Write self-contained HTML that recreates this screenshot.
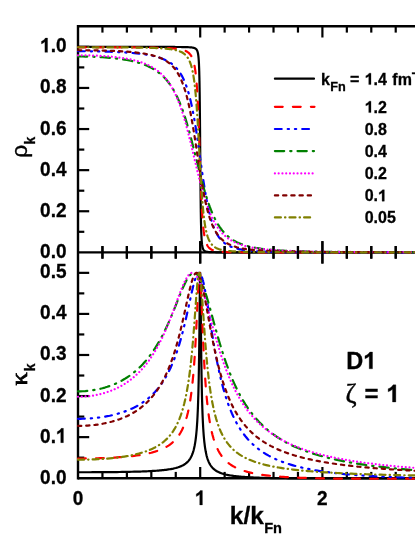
<!DOCTYPE html>
<html><head><meta charset="utf-8"><title>chart</title>
<style>html,body{margin:0;padding:0;background:#fff;}body{width:415px;height:537px;overflow:hidden;position:relative;font-family:"Liberation Sans",sans-serif;}</style>
</head><body>
<svg width="415" height="537" viewBox="0 0 415 537" style="position:absolute;left:0;top:0">
<rect x="0" y="0" width="415" height="537" fill="#fff"/>
<g stroke="#000" stroke-width="2.4" fill="none">
<line x1="78.0" y1="25.1" x2="78.0" y2="479.4"/>
<line x1="78.0" y1="26.3" x2="415" y2="26.3"/>
<line x1="78.0" y1="252.35" x2="415" y2="252.35"/>
<line x1="78.0" y1="478.2" x2="415" y2="478.2"/>
</g>
<g stroke="#000" stroke-width="2.2" fill="none">
<line x1="102.44" y1="26.3" x2="102.44" y2="32.6"/>
<line x1="102.44" y1="246.04999999999998" x2="102.44" y2="258.65"/>
<line x1="102.44" y1="471.9" x2="102.44" y2="478.2"/>
<line x1="126.88" y1="26.3" x2="126.88" y2="32.6"/>
<line x1="126.88" y1="246.04999999999998" x2="126.88" y2="258.65"/>
<line x1="126.88" y1="471.9" x2="126.88" y2="478.2"/>
<line x1="151.32" y1="26.3" x2="151.32" y2="32.6"/>
<line x1="151.32" y1="246.04999999999998" x2="151.32" y2="258.65"/>
<line x1="151.32" y1="471.9" x2="151.32" y2="478.2"/>
<line x1="175.76" y1="26.3" x2="175.76" y2="32.6"/>
<line x1="175.76" y1="246.04999999999998" x2="175.76" y2="258.65"/>
<line x1="175.76" y1="471.9" x2="175.76" y2="478.2"/>
<line x1="200.20" y1="26.3" x2="200.20" y2="37.5"/>
<line x1="200.20" y1="241.15" x2="200.20" y2="263.55"/>
<line x1="200.20" y1="467.0" x2="200.20" y2="478.2"/>
<line x1="224.64" y1="26.3" x2="224.64" y2="32.6"/>
<line x1="224.64" y1="246.04999999999998" x2="224.64" y2="258.65"/>
<line x1="224.64" y1="471.9" x2="224.64" y2="478.2"/>
<line x1="249.08" y1="26.3" x2="249.08" y2="32.6"/>
<line x1="249.08" y1="246.04999999999998" x2="249.08" y2="258.65"/>
<line x1="249.08" y1="471.9" x2="249.08" y2="478.2"/>
<line x1="273.52" y1="26.3" x2="273.52" y2="32.6"/>
<line x1="273.52" y1="246.04999999999998" x2="273.52" y2="258.65"/>
<line x1="273.52" y1="471.9" x2="273.52" y2="478.2"/>
<line x1="297.96" y1="26.3" x2="297.96" y2="32.6"/>
<line x1="297.96" y1="246.04999999999998" x2="297.96" y2="258.65"/>
<line x1="297.96" y1="471.9" x2="297.96" y2="478.2"/>
<line x1="322.40" y1="26.3" x2="322.40" y2="37.5"/>
<line x1="322.40" y1="241.15" x2="322.40" y2="263.55"/>
<line x1="322.40" y1="467.0" x2="322.40" y2="478.2"/>
<line x1="346.84" y1="26.3" x2="346.84" y2="32.6"/>
<line x1="346.84" y1="246.04999999999998" x2="346.84" y2="258.65"/>
<line x1="346.84" y1="471.9" x2="346.84" y2="478.2"/>
<line x1="371.28" y1="26.3" x2="371.28" y2="32.6"/>
<line x1="371.28" y1="246.04999999999998" x2="371.28" y2="258.65"/>
<line x1="371.28" y1="471.9" x2="371.28" y2="478.2"/>
<line x1="395.72" y1="26.3" x2="395.72" y2="32.6"/>
<line x1="395.72" y1="246.04999999999998" x2="395.72" y2="258.65"/>
<line x1="395.72" y1="471.9" x2="395.72" y2="478.2"/>
<line x1="78.0" y1="231.80" x2="84.3" y2="231.80"/>
<line x1="78.0" y1="211.25" x2="89.2" y2="211.25"/>
<line x1="78.0" y1="190.70" x2="84.3" y2="190.70"/>
<line x1="78.0" y1="170.15" x2="89.2" y2="170.15"/>
<line x1="78.0" y1="149.60" x2="84.3" y2="149.60"/>
<line x1="78.0" y1="129.05" x2="89.2" y2="129.05"/>
<line x1="78.0" y1="108.50" x2="84.3" y2="108.50"/>
<line x1="78.0" y1="87.95" x2="89.2" y2="87.95"/>
<line x1="78.0" y1="67.40" x2="84.3" y2="67.40"/>
<line x1="78.0" y1="46.85" x2="89.2" y2="46.85"/>
<line x1="78.0" y1="457.66" x2="84.3" y2="457.66"/>
<line x1="78.0" y1="437.13" x2="89.2" y2="437.13"/>
<line x1="78.0" y1="416.59" x2="84.3" y2="416.59"/>
<line x1="78.0" y1="396.06" x2="89.2" y2="396.06"/>
<line x1="78.0" y1="375.52" x2="84.3" y2="375.52"/>
<line x1="78.0" y1="354.99" x2="89.2" y2="354.99"/>
<line x1="78.0" y1="334.45" x2="84.3" y2="334.45"/>
<line x1="78.0" y1="313.92" x2="89.2" y2="313.92"/>
<line x1="78.0" y1="293.38" x2="84.3" y2="293.38"/>
<line x1="78.0" y1="272.85" x2="89.2" y2="272.85"/>
</g>
<g fill="none" stroke-linejoin="round" stroke-linecap="round">
<path d="M78.00,46.89 L80.44,46.89 L82.89,46.89 L85.33,46.89 L87.78,46.89 L90.22,46.89 L92.66,46.89 L95.11,46.89 L97.55,46.89 L100.00,46.89 L102.44,46.89 L104.88,46.89 L107.33,46.89 L109.77,46.90 L112.22,46.90 L114.66,46.90 L117.10,46.90 L119.55,46.90 L121.99,46.90 L124.44,46.90 L126.88,46.90 L129.32,46.90 L131.77,46.90 L134.21,46.90 L136.66,46.90 L139.10,46.90 L140.32,46.90 L141.54,46.90 L142.77,46.91 L143.99,46.91 L145.21,46.91 L146.43,46.91 L147.65,46.91 L148.88,46.91 L150.10,46.91 L151.32,46.91 L152.54,46.91 L153.76,46.92 L154.99,46.92 L156.21,46.92 L157.43,46.92 L158.65,46.92 L159.87,46.92 L161.10,46.93 L162.32,46.93 L163.54,46.93 L164.76,46.93 L165.98,46.94 L167.21,46.94 L168.43,46.94 L169.65,46.95 L170.87,46.95 L172.09,46.96 L173.32,46.96 L174.54,46.97 L175.76,46.98 L176.98,46.99 L178.20,47.00 L179.43,47.01 L180.65,47.02 L181.87,47.04 L183.09,47.06 L184.31,47.08 L185.54,47.11 L186.76,47.15 L187.98,47.19 L188.22,47.20 L188.47,47.22 L188.71,47.23 L188.96,47.24 L189.20,47.26 L189.45,47.27 L189.69,47.29 L189.94,47.30 L190.18,47.32 L190.42,47.34 L190.67,47.36 L190.91,47.39 L191.16,47.41 L191.40,47.44 L191.65,47.46 L191.89,47.50 L192.13,47.53 L192.38,47.57 L192.62,47.60 L192.87,47.65 L193.11,47.70 L193.36,47.75 L193.60,47.81 L193.85,47.87 L194.09,47.95 L194.33,48.03 L194.58,48.12 L194.82,48.22 L195.07,48.34 L195.31,48.48 L195.56,48.63 L195.80,48.81 L196.05,49.02 L196.29,49.27 L196.53,49.57 L196.60,49.65 L196.66,49.74 L196.72,49.83 L196.78,49.93 L196.84,50.03 L196.90,50.14 L196.96,50.25 L197.02,50.37 L197.08,50.49 L197.14,50.62 L197.21,50.76 L197.27,50.91 L197.33,51.06 L197.39,51.22 L197.45,51.40 L197.51,51.58 L197.57,51.78 L197.63,51.99 L197.69,52.21 L197.76,52.45 L197.82,52.70 L197.88,52.98 L197.94,53.27 L198.00,53.58 L198.06,53.92 L198.12,54.28 L198.18,54.67 L198.24,55.09 L198.31,55.55 L198.37,56.04 L198.43,56.58 L198.49,57.16 L198.55,57.80 L198.61,58.49 L198.67,59.26 L198.73,60.09 L198.79,61.01 L198.86,62.02 L198.92,63.13 L198.98,64.37 L199.04,65.74 L199.10,67.26 L199.16,68.95 L199.22,70.84 L199.28,72.95 L199.34,75.30 L199.41,77.94 L199.47,80.89 L199.53,84.20 L199.59,87.89 L199.65,92.01 L199.71,96.58 L199.77,101.65 L199.83,107.22 L199.89,113.29 L199.96,119.84 L200.02,126.84 L200.08,134.20 L200.14,141.82 L200.20,149.60 L200.26,157.39 L200.32,165.07 L200.38,172.51 L200.44,179.61 L200.51,186.28 L200.57,192.47 L200.63,198.16 L200.69,203.34 L200.75,208.02 L200.81,212.23 L200.87,215.99 L200.93,219.36 L200.99,222.36 L201.06,225.04 L201.12,227.42 L201.18,229.55 L201.24,231.45 L201.30,233.15 L201.36,234.67 L201.42,236.03 L201.48,237.26 L201.54,238.37 L201.61,239.37 L201.67,240.27 L201.73,241.09 L201.79,241.83 L201.85,242.51 L201.91,243.13 L201.97,243.70 L202.03,244.22 L202.09,244.69 L202.16,245.13 L202.22,245.53 L202.28,245.91 L202.34,246.25 L202.40,246.57 L202.46,246.86 L202.52,247.14 L202.58,247.40 L202.64,247.63 L202.71,247.86 L202.77,248.06 L202.83,248.26 L202.89,248.44 L202.95,248.61 L203.01,248.77 L203.07,248.92 L203.13,249.07 L203.19,249.20 L203.25,249.33 L203.32,249.45 L203.38,249.56 L203.44,249.66 L203.50,249.77 L203.56,249.86 L203.62,249.95 L203.68,250.04 L203.74,250.12 L203.80,250.20 L203.87,250.27 L204.11,250.53 L204.35,250.75 L204.60,250.93 L204.84,251.09 L205.09,251.22 L205.33,251.33 L205.58,251.43 L205.82,251.52 L206.07,251.59 L206.31,251.66 L206.55,251.72 L206.80,251.77 L207.04,251.81 L207.29,251.85 L207.53,251.89 L207.78,251.92 L208.02,251.95 L208.27,251.98 L208.51,252.01 L208.75,252.03 L209.00,252.05 L209.24,252.07 L209.49,252.09 L209.73,252.10 L209.98,252.12 L210.22,252.13 L210.46,252.14 L210.71,252.15 L210.95,252.16 L211.20,252.17 L211.44,252.18 L211.69,252.19 L211.93,252.20 L212.18,252.21 L212.42,252.21 L213.64,252.24 L214.86,252.27 L216.09,252.28 L217.31,252.29 L218.53,252.30 L219.75,252.31 L220.97,252.32 L222.20,252.32 L223.42,252.33 L224.64,252.33 L225.86,252.33 L227.08,252.34 L228.31,252.34 L229.53,252.34 L230.75,252.34 L231.97,252.34 L233.19,252.34 L234.42,252.34 L235.64,252.35 L236.86,252.35 L238.08,252.35 L239.30,252.35 L240.53,252.35 L241.75,252.35 L242.97,252.35 L244.19,252.35 L245.41,252.35 L246.64,252.35 L247.86,252.35 L249.08,252.35 L250.30,252.35 L251.52,252.35 L252.75,252.35 L253.97,252.35 L255.19,252.35 L256.41,252.35 L257.63,252.35 L258.86,252.35 L260.08,252.35 L261.30,252.35 L263.74,252.35 L266.19,252.35 L268.63,252.35 L271.08,252.35 L273.52,252.35 L275.96,252.35 L278.41,252.35 L280.85,252.35 L283.30,252.35 L285.74,252.35 L288.18,252.35 L290.63,252.35 L293.07,252.35 L295.52,252.35 L297.96,252.35 L300.40,252.35 L302.85,252.35 L305.29,252.35 L307.74,252.35 L310.18,252.35 L312.62,252.35 L315.07,252.35 L317.51,252.35 L319.96,252.35 L322.40,252.35 L324.84,252.35 L327.29,252.35 L329.73,252.35 L332.18,252.35 L334.62,252.35 L337.06,252.35 L339.51,252.35 L341.95,252.35 L344.40,252.35 L346.84,252.35 L349.28,252.35 L351.73,252.35 L354.17,252.35 L356.62,252.35 L359.06,252.35 L361.50,252.35 L363.95,252.35 L366.39,252.35 L368.84,252.35 L371.28,252.35 L373.72,252.35 L376.17,252.35 L378.61,252.35 L381.06,252.35 L383.50,252.35 L385.94,252.35 L388.39,252.35 L390.83,252.35 L393.28,252.35 L395.72,252.35 L398.16,252.35 L400.61,252.35 L403.05,252.35 L405.50,252.35 L407.94,252.35 L410.38,252.35 L412.83,252.35 L415.27,252.35 L417.72,252.35 L420.16,252.35" stroke="#000000" stroke-width="2.2"/>
<path d="M78.00,47.32 L80.44,47.32 L82.89,47.32 L85.33,47.33 L87.78,47.33 L90.22,47.33 L92.66,47.33 L95.11,47.33 L97.55,47.34 L100.00,47.34 L102.44,47.34 L104.88,47.35 L107.33,47.35 L109.77,47.36 L112.22,47.36 L114.66,47.37 L117.10,47.38 L119.55,47.39 L121.99,47.40 L124.44,47.41 L126.88,47.42 L129.32,47.43 L131.77,47.45 L134.21,47.46 L136.66,47.48 L139.10,47.50 L140.32,47.51 L141.54,47.52 L142.77,47.54 L143.99,47.55 L145.21,47.56 L146.43,47.58 L147.65,47.59 L148.88,47.61 L150.10,47.63 L151.32,47.65 L152.54,47.67 L153.76,47.69 L154.99,47.71 L156.21,47.74 L157.43,47.76 L158.65,47.79 L159.87,47.83 L161.10,47.86 L162.32,47.90 L163.54,47.94 L164.76,47.99 L165.98,48.04 L167.21,48.09 L168.43,48.15 L169.65,48.22 L170.87,48.29 L172.09,48.38 L173.32,48.48 L174.54,48.58 L175.76,48.71 L176.98,48.85 L178.20,49.01 L179.43,49.21 L180.65,49.43 L181.87,49.70 L183.09,50.02 L184.31,50.42 L185.54,50.90 L186.76,51.52 L187.98,52.31 L188.22,52.49 L188.47,52.69 L188.71,52.90 L188.96,53.12 L189.20,53.35 L189.45,53.59 L189.69,53.86 L189.94,54.14 L190.18,54.44 L190.42,54.75 L190.67,55.09 L190.91,55.46 L191.16,55.85 L191.40,56.27 L191.65,56.72 L191.89,57.20 L192.13,57.73 L192.38,58.29 L192.62,58.90 L192.87,59.57 L193.11,60.29 L193.36,61.08 L193.60,61.93 L193.85,62.87 L194.09,63.89 L194.33,65.02 L194.58,66.25 L194.82,67.62 L195.07,69.12 L195.31,70.78 L195.56,72.62 L195.80,74.66 L196.05,76.92 L196.29,79.43 L196.53,82.23 L196.60,82.97 L196.66,83.74 L196.72,84.53 L196.78,85.33 L196.84,86.16 L196.90,87.01 L196.96,87.89 L197.02,88.78 L197.08,89.70 L197.14,90.65 L197.21,91.61 L197.27,92.61 L197.33,93.62 L197.39,94.67 L197.45,95.74 L197.51,96.84 L197.57,97.96 L197.63,99.11 L197.69,100.29 L197.76,101.50 L197.82,102.73 L197.88,104.00 L197.94,105.29 L198.00,106.61 L198.06,107.96 L198.12,109.34 L198.18,110.74 L198.24,112.18 L198.31,113.64 L198.37,115.13 L198.43,116.65 L198.49,118.20 L198.55,119.77 L198.61,121.37 L198.67,123.00 L198.73,124.64 L198.79,126.32 L198.86,128.01 L198.92,129.73 L198.98,131.46 L199.04,133.22 L199.10,134.99 L199.16,136.78 L199.22,138.59 L199.28,140.41 L199.34,142.24 L199.41,144.08 L199.47,145.93 L199.53,147.79 L199.59,149.65 L199.65,151.51 L199.71,153.38 L199.77,155.24 L199.83,157.11 L199.89,158.96 L199.96,160.82 L200.02,162.66 L200.08,164.50 L200.14,166.32 L200.20,168.13 L200.26,169.93 L200.32,171.71 L200.38,173.47 L200.44,175.21 L200.51,176.94 L200.57,178.64 L200.63,180.32 L200.69,181.97 L200.75,183.60 L200.81,185.21 L200.87,186.79 L200.93,188.34 L200.99,189.86 L201.06,191.36 L201.12,192.82 L201.18,194.26 L201.24,195.67 L201.30,197.05 L201.36,198.40 L201.42,199.72 L201.48,201.01 L201.54,202.27 L201.61,203.50 L201.67,204.71 L201.73,205.88 L201.79,207.02 L201.85,208.14 L201.91,209.23 L201.97,210.29 L202.03,211.32 L202.09,212.33 L202.16,213.31 L202.22,214.27 L202.28,215.20 L202.34,216.10 L202.40,216.98 L202.46,217.84 L202.52,218.67 L202.58,219.48 L202.64,220.27 L202.71,221.03 L202.77,221.78 L202.83,222.50 L202.89,223.21 L202.95,223.89 L203.01,224.56 L203.07,225.21 L203.13,225.84 L203.19,226.45 L203.25,227.04 L203.32,227.62 L203.38,228.19 L203.44,228.73 L203.50,229.26 L203.56,229.78 L203.62,230.28 L203.68,230.77 L203.74,231.25 L203.80,231.71 L203.87,232.16 L204.11,233.84 L204.35,235.35 L204.60,236.70 L204.84,237.92 L205.09,239.02 L205.33,240.01 L205.58,240.90 L205.82,241.72 L206.07,242.46 L206.31,243.13 L206.55,243.74 L206.80,244.30 L207.04,244.81 L207.29,245.28 L207.53,245.71 L207.78,246.11 L208.02,246.47 L208.27,246.81 L208.51,247.12 L208.75,247.41 L209.00,247.68 L209.24,247.93 L209.49,248.16 L209.73,248.38 L209.98,248.58 L210.22,248.77 L210.46,248.94 L210.71,249.11 L210.95,249.26 L211.20,249.41 L211.44,249.54 L211.69,249.67 L211.93,249.79 L212.18,249.90 L212.42,250.01 L213.64,250.46 L214.86,250.80 L216.09,251.07 L217.31,251.28 L218.53,251.45 L219.75,251.58 L220.97,251.69 L222.20,251.78 L223.42,251.86 L224.64,251.93 L225.86,251.98 L227.08,252.03 L228.31,252.06 L229.53,252.10 L230.75,252.13 L231.97,252.15 L233.19,252.18 L234.42,252.19 L235.64,252.21 L236.86,252.23 L238.08,252.24 L239.30,252.25 L240.53,252.26 L241.75,252.27 L242.97,252.28 L244.19,252.29 L245.41,252.29 L246.64,252.30 L247.86,252.30 L249.08,252.31 L250.30,252.31 L251.52,252.32 L252.75,252.32 L253.97,252.32 L255.19,252.32 L256.41,252.33 L257.63,252.33 L258.86,252.33 L260.08,252.33 L261.30,252.33 L263.74,252.34 L266.19,252.34 L268.63,252.34 L271.08,252.34 L273.52,252.34 L275.96,252.35 L278.41,252.35 L280.85,252.35 L283.30,252.35 L285.74,252.35 L288.18,252.35 L290.63,252.35 L293.07,252.35 L295.52,252.35 L297.96,252.35 L300.40,252.35 L302.85,252.35 L305.29,252.35 L307.74,252.35 L310.18,252.35 L312.62,252.35 L315.07,252.35 L317.51,252.35 L319.96,252.35 L322.40,252.35 L324.84,252.35 L327.29,252.35 L329.73,252.35 L332.18,252.35 L334.62,252.35 L337.06,252.35 L339.51,252.35 L341.95,252.35 L344.40,252.35 L346.84,252.35 L349.28,252.35 L351.73,252.35 L354.17,252.35 L356.62,252.35 L359.06,252.35 L361.50,252.35 L363.95,252.35 L366.39,252.35 L368.84,252.35 L371.28,252.35 L373.72,252.35 L376.17,252.35 L378.61,252.35 L381.06,252.35 L383.50,252.35 L385.94,252.35 L388.39,252.35 L390.83,252.35 L393.28,252.35 L395.72,252.35 L398.16,252.35 L400.61,252.35 L403.05,252.35 L405.50,252.35 L407.94,252.35 L410.38,252.35 L412.83,252.35 L415.27,252.35 L417.72,252.35 L420.16,252.35" stroke="#ff0000" stroke-width="2.2" stroke-dasharray="7.8 10.2"/>
<path d="M78.00,51.24 L80.44,51.24 L82.89,51.25 L85.33,51.26 L87.78,51.28 L90.22,51.30 L92.66,51.33 L95.11,51.37 L97.55,51.41 L100.00,51.46 L102.44,51.51 L104.88,51.58 L107.33,51.64 L109.77,51.72 L112.22,51.81 L114.66,51.90 L117.10,52.01 L119.55,52.13 L121.99,52.26 L124.44,52.40 L126.88,52.56 L129.32,52.73 L131.77,52.92 L134.21,53.14 L136.66,53.37 L139.10,53.64 L140.32,53.78 L141.54,53.93 L142.77,54.09 L143.99,54.26 L145.21,54.44 L146.43,54.63 L147.65,54.84 L148.88,55.05 L150.10,55.28 L151.32,55.52 L152.54,55.78 L153.76,56.06 L154.99,56.36 L156.21,56.68 L157.43,57.02 L158.65,57.38 L159.87,57.78 L161.10,58.20 L162.32,58.66 L163.54,59.15 L164.76,59.69 L165.98,60.27 L167.21,60.90 L168.43,61.59 L169.65,62.34 L170.87,63.17 L172.09,64.07 L173.32,65.07 L174.54,66.17 L175.76,67.38 L176.98,68.73 L178.20,70.23 L179.43,71.90 L180.65,73.77 L181.87,75.86 L183.09,78.21 L184.31,80.85 L185.54,83.83 L186.76,87.19 L187.98,90.97 L188.22,91.78 L188.47,92.61 L188.71,93.47 L188.96,94.34 L189.20,95.23 L189.45,96.15 L189.69,97.08 L189.94,98.04 L190.18,99.02 L190.42,100.02 L190.67,101.05 L190.91,102.09 L191.16,103.17 L191.40,104.26 L191.65,105.38 L191.89,106.53 L192.13,107.70 L192.38,108.89 L192.62,110.11 L192.87,111.35 L193.11,112.62 L193.36,113.91 L193.60,115.23 L193.85,116.57 L194.09,117.93 L194.33,119.32 L194.58,120.74 L194.82,122.18 L195.07,123.64 L195.31,125.13 L195.56,126.63 L195.80,128.16 L196.05,129.71 L196.29,131.28 L196.53,132.87 L196.60,133.28 L196.66,133.68 L196.72,134.08 L196.78,134.48 L196.84,134.89 L196.90,135.30 L196.96,135.70 L197.02,136.11 L197.08,136.52 L197.14,136.93 L197.21,137.34 L197.27,137.76 L197.33,138.17 L197.39,138.58 L197.45,139.00 L197.51,139.42 L197.57,139.83 L197.63,140.25 L197.69,140.67 L197.76,141.09 L197.82,141.51 L197.88,141.93 L197.94,142.36 L198.00,142.78 L198.06,143.20 L198.12,143.63 L198.18,144.05 L198.24,144.48 L198.31,144.91 L198.37,145.34 L198.43,145.76 L198.49,146.19 L198.55,146.62 L198.61,147.05 L198.67,147.48 L198.73,147.91 L198.79,148.35 L198.86,148.78 L198.92,149.21 L198.98,149.64 L199.04,150.08 L199.10,150.51 L199.16,150.95 L199.22,151.38 L199.28,151.82 L199.34,152.25 L199.41,152.69 L199.47,153.12 L199.53,153.56 L199.59,153.99 L199.65,154.43 L199.71,154.87 L199.77,155.30 L199.83,155.74 L199.89,156.18 L199.96,156.62 L200.02,157.05 L200.08,157.49 L200.14,157.93 L200.20,158.36 L200.26,158.80 L200.32,159.24 L200.38,159.68 L200.44,160.11 L200.51,160.55 L200.57,160.99 L200.63,161.42 L200.69,161.86 L200.75,162.29 L200.81,162.73 L200.87,163.17 L200.93,163.60 L200.99,164.04 L201.06,164.47 L201.12,164.90 L201.18,165.34 L201.24,165.77 L201.30,166.20 L201.36,166.64 L201.42,167.07 L201.48,167.50 L201.54,167.93 L201.61,168.36 L201.67,168.79 L201.73,169.22 L201.79,169.65 L201.85,170.07 L201.91,170.50 L201.97,170.93 L202.03,171.35 L202.09,171.78 L202.16,172.20 L202.22,172.62 L202.28,173.05 L202.34,173.47 L202.40,173.89 L202.46,174.31 L202.52,174.73 L202.58,175.14 L202.64,175.56 L202.71,175.98 L202.77,176.39 L202.83,176.81 L202.89,177.22 L202.95,177.63 L203.01,178.04 L203.07,178.45 L203.13,178.86 L203.19,179.27 L203.25,179.68 L203.32,180.08 L203.38,180.48 L203.44,180.89 L203.50,181.29 L203.56,181.69 L203.62,182.09 L203.68,182.49 L203.74,182.89 L203.80,183.28 L203.87,183.68 L204.11,185.24 L204.35,186.78 L204.60,188.30 L204.84,189.80 L205.09,191.28 L205.33,192.72 L205.58,194.15 L205.82,195.55 L206.07,196.92 L206.31,198.27 L206.55,199.59 L206.80,200.88 L207.04,202.15 L207.29,203.39 L207.53,204.60 L207.78,205.79 L208.02,206.95 L208.27,208.08 L208.51,209.19 L208.75,210.27 L209.00,211.32 L209.24,212.35 L209.49,213.35 L209.73,214.33 L209.98,215.29 L210.22,216.22 L210.46,217.12 L210.71,218.01 L210.95,218.86 L211.20,219.70 L211.44,220.52 L211.69,221.31 L211.93,222.08 L212.18,222.83 L212.42,223.56 L213.64,226.93 L214.86,229.86 L216.09,232.41 L217.31,234.62 L218.53,236.55 L219.75,238.23 L220.97,239.71 L222.20,240.99 L223.42,242.13 L224.64,243.12 L225.86,244.00 L227.08,244.78 L228.31,245.47 L229.53,246.08 L230.75,246.63 L231.97,247.12 L233.19,247.56 L234.42,247.96 L235.64,248.31 L236.86,248.63 L238.08,248.92 L239.30,249.19 L240.53,249.43 L241.75,249.64 L242.97,249.84 L244.19,250.02 L245.41,250.19 L246.64,250.34 L247.86,250.48 L249.08,250.61 L250.30,250.72 L251.52,250.83 L252.75,250.93 L253.97,251.02 L255.19,251.11 L256.41,251.19 L257.63,251.26 L258.86,251.33 L260.08,251.39 L261.30,251.45 L263.74,251.56 L266.19,251.65 L268.63,251.73 L271.08,251.80 L273.52,251.86 L275.96,251.91 L278.41,251.96 L280.85,252.00 L283.30,252.04 L285.74,252.07 L288.18,252.10 L290.63,252.13 L293.07,252.15 L295.52,252.17 L297.96,252.19 L300.40,252.20 L302.85,252.22 L305.29,252.23 L307.74,252.24 L310.18,252.25 L312.62,252.26 L315.07,252.27 L317.51,252.28 L319.96,252.29 L322.40,252.29 L324.84,252.30 L327.29,252.30 L329.73,252.31 L332.18,252.31 L334.62,252.32 L337.06,252.32 L339.51,252.32 L341.95,252.33 L344.40,252.33 L346.84,252.33 L349.28,252.33 L351.73,252.34 L354.17,252.34 L356.62,252.34 L359.06,252.34 L361.50,252.34 L363.95,252.34 L366.39,252.34 L368.84,252.34 L371.28,252.34 L373.72,252.35 L376.17,252.35 L378.61,252.35 L381.06,252.35 L383.50,252.35 L385.94,252.35 L388.39,252.35 L390.83,252.35 L393.28,252.35 L395.72,252.35 L398.16,252.35 L400.61,252.35 L403.05,252.35 L405.50,252.35 L407.94,252.35 L410.38,252.35 L412.83,252.35 L415.27,252.35 L417.72,252.35 L420.16,252.35" stroke="#0000ff" stroke-width="2.2" stroke-dasharray="6.8 6.0 1.3 5.9 1.3 6.0"/>
<path d="M78.00,56.49 L80.44,56.50 L82.89,56.52 L85.33,56.55 L87.78,56.60 L90.22,56.67 L92.66,56.75 L95.11,56.84 L97.55,56.95 L100.00,57.08 L102.44,57.23 L104.88,57.40 L107.33,57.59 L109.77,57.79 L112.22,58.03 L114.66,58.28 L117.10,58.57 L119.55,58.88 L121.99,59.23 L124.44,59.62 L126.88,60.04 L129.32,60.51 L131.77,61.03 L134.21,61.60 L136.66,62.23 L139.10,62.94 L140.32,63.32 L141.54,63.72 L142.77,64.14 L143.99,64.59 L145.21,65.06 L146.43,65.56 L147.65,66.09 L148.88,66.65 L150.10,67.24 L151.32,67.87 L152.54,68.53 L153.76,69.24 L154.99,69.99 L156.21,70.79 L157.43,71.64 L158.65,72.54 L159.87,73.51 L161.10,74.53 L162.32,75.63 L163.54,76.80 L164.76,78.05 L165.98,79.38 L167.21,80.81 L168.43,82.34 L169.65,83.98 L170.87,85.73 L172.09,87.61 L173.32,89.62 L174.54,91.77 L175.76,94.07 L176.98,96.54 L178.20,99.17 L179.43,101.98 L180.65,104.98 L181.87,108.17 L183.09,111.56 L184.31,115.15 L185.54,118.94 L186.76,122.92 L187.98,127.09 L188.22,127.95 L188.47,128.81 L188.71,129.68 L188.96,130.56 L189.20,131.44 L189.45,132.33 L189.69,133.23 L189.94,134.13 L190.18,135.04 L190.42,135.95 L190.67,136.87 L190.91,137.80 L191.16,138.73 L191.40,139.67 L191.65,140.61 L191.89,141.55 L192.13,142.51 L192.38,143.46 L192.62,144.42 L192.87,145.38 L193.11,146.35 L193.36,147.32 L193.60,148.29 L193.85,149.27 L194.09,150.24 L194.33,151.22 L194.58,152.21 L194.82,153.19 L195.07,154.18 L195.31,155.16 L195.56,156.15 L195.80,157.14 L196.05,158.13 L196.29,159.12 L196.53,160.11 L196.60,160.36 L196.66,160.60 L196.72,160.85 L196.78,161.10 L196.84,161.34 L196.90,161.59 L196.96,161.84 L197.02,162.08 L197.08,162.33 L197.14,162.58 L197.21,162.83 L197.27,163.07 L197.33,163.32 L197.39,163.56 L197.45,163.81 L197.51,164.06 L197.57,164.30 L197.63,164.55 L197.69,164.80 L197.76,165.04 L197.82,165.29 L197.88,165.53 L197.94,165.78 L198.00,166.02 L198.06,166.27 L198.12,166.51 L198.18,166.76 L198.24,167.00 L198.31,167.25 L198.37,167.49 L198.43,167.74 L198.49,167.98 L198.55,168.22 L198.61,168.47 L198.67,168.71 L198.73,168.95 L198.79,169.20 L198.86,169.44 L198.92,169.68 L198.98,169.93 L199.04,170.17 L199.10,170.41 L199.16,170.65 L199.22,170.89 L199.28,171.14 L199.34,171.38 L199.41,171.62 L199.47,171.86 L199.53,172.10 L199.59,172.34 L199.65,172.58 L199.71,172.82 L199.77,173.06 L199.83,173.30 L199.89,173.54 L199.96,173.78 L200.02,174.02 L200.08,174.25 L200.14,174.49 L200.20,174.73 L200.26,174.97 L200.32,175.21 L200.38,175.44 L200.44,175.68 L200.51,175.92 L200.57,176.15 L200.63,176.39 L200.69,176.62 L200.75,176.86 L200.81,177.09 L200.87,177.33 L200.93,177.56 L200.99,177.79 L201.06,178.03 L201.12,178.26 L201.18,178.49 L201.24,178.73 L201.30,178.96 L201.36,179.19 L201.42,179.42 L201.48,179.65 L201.54,179.88 L201.61,180.11 L201.67,180.34 L201.73,180.57 L201.79,180.80 L201.85,181.03 L201.91,181.26 L201.97,181.49 L202.03,181.72 L202.09,181.94 L202.16,182.17 L202.22,182.40 L202.28,182.62 L202.34,182.85 L202.40,183.08 L202.46,183.30 L202.52,183.52 L202.58,183.75 L202.64,183.97 L202.71,184.20 L202.77,184.42 L202.83,184.64 L202.89,184.86 L202.95,185.09 L203.01,185.31 L203.07,185.53 L203.13,185.75 L203.19,185.97 L203.25,186.19 L203.32,186.41 L203.38,186.63 L203.44,186.84 L203.50,187.06 L203.56,187.28 L203.62,187.50 L203.68,187.71 L203.74,187.93 L203.80,188.14 L203.87,188.36 L204.11,189.21 L204.35,190.06 L204.60,190.90 L204.84,191.73 L205.09,192.56 L205.33,193.38 L205.58,194.18 L205.82,194.98 L206.07,195.78 L206.31,196.56 L206.55,197.34 L206.80,198.10 L207.04,198.86 L207.29,199.61 L207.53,200.35 L207.78,201.09 L208.02,201.81 L208.27,202.53 L208.51,203.23 L208.75,203.93 L209.00,204.62 L209.24,205.30 L209.49,205.97 L209.73,206.64 L209.98,207.29 L210.22,207.94 L210.46,208.57 L210.71,209.20 L210.95,209.82 L211.20,210.44 L211.44,211.04 L211.69,211.64 L211.93,212.22 L212.18,212.80 L212.42,213.37 L213.64,216.10 L214.86,218.64 L216.09,220.99 L217.31,223.17 L218.53,225.18 L219.75,227.04 L220.97,228.76 L222.20,230.35 L223.42,231.81 L224.64,233.16 L225.86,234.41 L227.08,235.56 L228.31,236.62 L229.53,237.61 L230.75,238.52 L231.97,239.36 L233.19,240.14 L234.42,240.86 L235.64,241.54 L236.86,242.16 L238.08,242.74 L239.30,243.28 L240.53,243.78 L241.75,244.25 L242.97,244.68 L244.19,245.09 L245.41,245.47 L246.64,245.83 L247.86,246.16 L249.08,246.47 L250.30,246.77 L251.52,247.04 L252.75,247.30 L253.97,247.54 L255.19,247.77 L256.41,247.98 L257.63,248.19 L258.86,248.38 L260.08,248.56 L261.30,248.73 L263.74,249.04 L266.19,249.32 L268.63,249.57 L271.08,249.79 L273.52,250.00 L275.96,250.18 L278.41,250.34 L280.85,250.50 L283.30,250.63 L285.74,250.76 L288.18,250.87 L290.63,250.97 L293.07,251.07 L295.52,251.16 L297.96,251.24 L300.40,251.31 L302.85,251.38 L305.29,251.44 L307.74,251.50 L310.18,251.55 L312.62,251.60 L315.07,251.65 L317.51,251.69 L319.96,251.73 L322.40,251.77 L324.84,251.80 L327.29,251.83 L329.73,251.86 L332.18,251.89 L334.62,251.92 L337.06,251.94 L339.51,251.96 L341.95,251.99 L344.40,252.01 L346.84,252.02 L349.28,252.04 L351.73,252.06 L354.17,252.07 L356.62,252.09 L359.06,252.10 L361.50,252.11 L363.95,252.13 L366.39,252.14 L368.84,252.15 L371.28,252.16 L373.72,252.17 L376.17,252.18 L378.61,252.19 L381.06,252.19 L383.50,252.20 L385.94,252.21 L388.39,252.22 L390.83,252.22 L393.28,252.23 L395.72,252.23 L398.16,252.24 L400.61,252.24 L403.05,252.25 L405.50,252.25 L407.94,252.26 L410.38,252.26 L412.83,252.27 L415.27,252.27 L417.72,252.27 L420.16,252.28" stroke="#008000" stroke-width="2.2" stroke-dasharray="9.3 6 1.3 6"/>
<path d="M78.00,55.28 L80.44,55.28 L82.89,55.30 L85.33,55.34 L87.78,55.38 L90.22,55.45 L92.66,55.52 L95.11,55.61 L97.55,55.72 L100.00,55.84 L102.44,55.99 L104.88,56.15 L107.33,56.33 L109.77,56.53 L112.22,56.75 L114.66,57.00 L117.10,57.28 L119.55,57.59 L121.99,57.92 L124.44,58.30 L126.88,58.72 L129.32,59.18 L131.77,59.69 L134.21,60.26 L136.66,60.89 L139.10,61.60 L140.32,61.98 L141.54,62.38 L142.77,62.81 L143.99,63.26 L145.21,63.74 L146.43,64.25 L147.65,64.79 L148.88,65.36 L150.10,65.97 L151.32,66.62 L152.54,67.31 L153.76,68.04 L154.99,68.82 L156.21,69.66 L157.43,70.55 L158.65,71.50 L159.87,72.52 L161.10,73.61 L162.32,74.78 L163.54,76.03 L164.76,77.37 L165.98,78.81 L167.21,80.36 L168.43,82.03 L169.65,83.82 L170.87,85.74 L172.09,87.81 L173.32,90.03 L174.54,92.42 L175.76,94.99 L176.98,97.75 L178.20,100.70 L179.43,103.85 L180.65,107.22 L181.87,110.81 L183.09,114.62 L184.31,118.65 L185.54,122.90 L186.76,127.35 L187.98,131.99 L188.22,132.94 L188.47,133.89 L188.71,134.86 L188.96,135.83 L189.20,136.80 L189.45,137.78 L189.69,138.77 L189.94,139.76 L190.18,140.75 L190.42,141.75 L190.67,142.76 L190.91,143.77 L191.16,144.78 L191.40,145.80 L191.65,146.82 L191.89,147.85 L192.13,148.87 L192.38,149.90 L192.62,150.93 L192.87,151.97 L193.11,153.00 L193.36,154.04 L193.60,155.08 L193.85,156.11 L194.09,157.15 L194.33,158.19 L194.58,159.23 L194.82,160.27 L195.07,161.30 L195.31,162.34 L195.56,163.37 L195.80,164.40 L196.05,165.43 L196.29,166.46 L196.53,167.48 L196.60,167.73 L196.66,167.99 L196.72,168.25 L196.78,168.50 L196.84,168.75 L196.90,169.01 L196.96,169.26 L197.02,169.52 L197.08,169.77 L197.14,170.02 L197.21,170.28 L197.27,170.53 L197.33,170.78 L197.39,171.03 L197.45,171.29 L197.51,171.54 L197.57,171.79 L197.63,172.04 L197.69,172.29 L197.76,172.54 L197.82,172.79 L197.88,173.04 L197.94,173.29 L198.00,173.54 L198.06,173.79 L198.12,174.04 L198.18,174.29 L198.24,174.54 L198.31,174.78 L198.37,175.03 L198.43,175.28 L198.49,175.52 L198.55,175.77 L198.61,176.02 L198.67,176.26 L198.73,176.51 L198.79,176.75 L198.86,177.00 L198.92,177.24 L198.98,177.49 L199.04,177.73 L199.10,177.97 L199.16,178.22 L199.22,178.46 L199.28,178.70 L199.34,178.94 L199.41,179.18 L199.47,179.42 L199.53,179.66 L199.59,179.90 L199.65,180.14 L199.71,180.38 L199.77,180.62 L199.83,180.86 L199.89,181.10 L199.96,181.33 L200.02,181.57 L200.08,181.81 L200.14,182.04 L200.20,182.28 L200.26,182.51 L200.32,182.75 L200.38,182.98 L200.44,183.22 L200.51,183.45 L200.57,183.68 L200.63,183.92 L200.69,184.15 L200.75,184.38 L200.81,184.61 L200.87,184.84 L200.93,185.07 L200.99,185.30 L201.06,185.53 L201.12,185.76 L201.18,185.99 L201.24,186.21 L201.30,186.44 L201.36,186.67 L201.42,186.89 L201.48,187.12 L201.54,187.34 L201.61,187.57 L201.67,187.79 L201.73,188.02 L201.79,188.24 L201.85,188.46 L201.91,188.68 L201.97,188.91 L202.03,189.13 L202.09,189.35 L202.16,189.57 L202.22,189.79 L202.28,190.01 L202.34,190.22 L202.40,190.44 L202.46,190.66 L202.52,190.88 L202.58,191.09 L202.64,191.31 L202.71,191.52 L202.77,191.74 L202.83,191.95 L202.89,192.16 L202.95,192.38 L203.01,192.59 L203.07,192.80 L203.13,193.01 L203.19,193.22 L203.25,193.43 L203.32,193.64 L203.38,193.85 L203.44,194.06 L203.50,194.27 L203.56,194.47 L203.62,194.68 L203.68,194.89 L203.74,195.09 L203.80,195.30 L203.87,195.50 L204.11,196.31 L204.35,197.12 L204.60,197.91 L204.84,198.69 L205.09,199.47 L205.33,200.23 L205.58,200.99 L205.82,201.74 L206.07,202.47 L206.31,203.20 L206.55,203.92 L206.80,204.63 L207.04,205.33 L207.29,206.02 L207.53,206.70 L207.78,207.37 L208.02,208.03 L208.27,208.68 L208.51,209.32 L208.75,209.96 L209.00,210.58 L209.24,211.20 L209.49,211.80 L209.73,212.40 L209.98,212.99 L210.22,213.57 L210.46,214.14 L210.71,214.71 L210.95,215.26 L211.20,215.81 L211.44,216.34 L211.69,216.87 L211.93,217.39 L212.18,217.91 L212.42,218.41 L213.64,220.82 L214.86,223.04 L216.09,225.09 L217.31,226.97 L218.53,228.71 L219.75,230.31 L220.97,231.78 L222.20,233.14 L223.42,234.39 L224.64,235.54 L225.86,236.60 L227.08,237.58 L228.31,238.49 L229.53,239.33 L230.75,240.10 L231.97,240.82 L233.19,241.48 L234.42,242.10 L235.64,242.67 L236.86,243.21 L238.08,243.70 L239.30,244.16 L240.53,244.59 L241.75,245.00 L242.97,245.37 L244.19,245.72 L245.41,246.05 L246.64,246.36 L247.86,246.65 L249.08,246.92 L250.30,247.17 L251.52,247.41 L252.75,247.64 L253.97,247.85 L255.19,248.05 L256.41,248.24 L257.63,248.42 L258.86,248.58 L260.08,248.74 L261.30,248.89 L263.74,249.17 L266.19,249.42 L268.63,249.64 L271.08,249.85 L273.52,250.03 L275.96,250.20 L278.41,250.35 L280.85,250.48 L283.30,250.61 L285.74,250.73 L288.18,250.83 L290.63,250.93 L293.07,251.02 L295.52,251.10 L297.96,251.18 L300.40,251.24 L302.85,251.31 L305.29,251.37 L307.74,251.43 L310.18,251.48 L312.62,251.52 L315.07,251.57 L317.51,251.61 L319.96,251.65 L322.40,251.69 L324.84,251.72 L327.29,251.75 L329.73,251.78 L332.18,251.81 L334.62,251.84 L337.06,251.86 L339.51,251.88 L341.95,251.91 L344.40,251.93 L346.84,251.95 L349.28,251.96 L351.73,251.98 L354.17,252.00 L356.62,252.01 L359.06,252.03 L361.50,252.04 L363.95,252.06 L366.39,252.07 L368.84,252.08 L371.28,252.09 L373.72,252.10 L376.17,252.11 L378.61,252.12 L381.06,252.13 L383.50,252.14 L385.94,252.15 L388.39,252.15 L390.83,252.16 L393.28,252.17 L395.72,252.18 L398.16,252.18 L400.61,252.19 L403.05,252.19 L405.50,252.20 L407.94,252.21 L410.38,252.21 L412.83,252.22 L415.27,252.22 L417.72,252.23 L420.16,252.23" stroke="#ff00ff" stroke-width="2.2" stroke-dasharray="0.01 3.76"/>
<path d="M78.00,50.24 L80.44,50.24 L82.89,50.25 L85.33,50.26 L87.78,50.28 L90.22,50.30 L92.66,50.34 L95.11,50.37 L97.55,50.42 L100.00,50.47 L102.44,50.53 L104.88,50.59 L107.33,50.66 L109.77,50.75 L112.22,50.84 L114.66,50.94 L117.10,51.06 L119.55,51.18 L121.99,51.32 L124.44,51.48 L126.88,51.65 L129.32,51.84 L131.77,52.06 L134.21,52.30 L136.66,52.56 L139.10,52.86 L140.32,53.03 L141.54,53.20 L142.77,53.38 L143.99,53.58 L145.21,53.79 L146.43,54.01 L147.65,54.25 L148.88,54.50 L150.10,54.77 L151.32,55.06 L152.54,55.36 L153.76,55.70 L154.99,56.05 L156.21,56.43 L157.43,56.85 L158.65,57.29 L159.87,57.78 L161.10,58.30 L162.32,58.87 L163.54,59.48 L164.76,60.15 L165.98,60.89 L167.21,61.69 L168.43,62.57 L169.65,63.54 L170.87,64.60 L172.09,65.78 L173.32,67.08 L174.54,68.52 L175.76,70.12 L176.98,71.90 L178.20,73.90 L179.43,76.12 L180.65,78.61 L181.87,81.40 L183.09,84.53 L184.31,88.03 L185.54,91.96 L186.76,96.34 L187.98,101.21 L188.22,102.25 L188.47,103.31 L188.71,104.39 L188.96,105.49 L189.20,106.61 L189.45,107.75 L189.69,108.92 L189.94,110.11 L190.18,111.32 L190.42,112.54 L190.67,113.80 L190.91,115.07 L191.16,116.36 L191.40,117.68 L191.65,119.01 L191.89,120.36 L192.13,121.74 L192.38,123.13 L192.62,124.55 L192.87,125.98 L193.11,127.43 L193.36,128.89 L193.60,130.38 L193.85,131.87 L194.09,133.39 L194.33,134.91 L194.58,136.46 L194.82,138.01 L195.07,139.57 L195.31,141.15 L195.56,142.73 L195.80,144.33 L196.05,145.93 L196.29,147.53 L196.53,149.14 L196.60,149.55 L196.66,149.95 L196.72,150.35 L196.78,150.76 L196.84,151.16 L196.90,151.57 L196.96,151.97 L197.02,152.37 L197.08,152.78 L197.14,153.18 L197.21,153.59 L197.27,153.99 L197.33,154.40 L197.39,154.80 L197.45,155.21 L197.51,155.61 L197.57,156.02 L197.63,156.42 L197.69,156.82 L197.76,157.23 L197.82,157.63 L197.88,158.04 L197.94,158.44 L198.00,158.84 L198.06,159.25 L198.12,159.65 L198.18,160.05 L198.24,160.45 L198.31,160.86 L198.37,161.26 L198.43,161.66 L198.49,162.06 L198.55,162.46 L198.61,162.86 L198.67,163.26 L198.73,163.66 L198.79,164.06 L198.86,164.46 L198.92,164.86 L198.98,165.26 L199.04,165.65 L199.10,166.05 L199.16,166.45 L199.22,166.84 L199.28,167.24 L199.34,167.63 L199.41,168.02 L199.47,168.42 L199.53,168.81 L199.59,169.20 L199.65,169.59 L199.71,169.98 L199.77,170.37 L199.83,170.76 L199.89,171.15 L199.96,171.54 L200.02,171.92 L200.08,172.31 L200.14,172.69 L200.20,173.08 L200.26,173.46 L200.32,173.84 L200.38,174.23 L200.44,174.61 L200.51,174.99 L200.57,175.37 L200.63,175.74 L200.69,176.12 L200.75,176.50 L200.81,176.87 L200.87,177.25 L200.93,177.62 L200.99,177.99 L201.06,178.36 L201.12,178.73 L201.18,179.10 L201.24,179.47 L201.30,179.84 L201.36,180.20 L201.42,180.57 L201.48,180.93 L201.54,181.29 L201.61,181.65 L201.67,182.01 L201.73,182.37 L201.79,182.73 L201.85,183.09 L201.91,183.44 L201.97,183.80 L202.03,184.15 L202.09,184.50 L202.16,184.85 L202.22,185.20 L202.28,185.55 L202.34,185.90 L202.40,186.25 L202.46,186.59 L202.52,186.93 L202.58,187.28 L202.64,187.62 L202.71,187.96 L202.77,188.29 L202.83,188.63 L202.89,188.97 L202.95,189.30 L203.01,189.63 L203.07,189.97 L203.13,190.30 L203.19,190.63 L203.25,190.95 L203.32,191.28 L203.38,191.61 L203.44,191.93 L203.50,192.25 L203.56,192.57 L203.62,192.89 L203.68,193.21 L203.74,193.53 L203.80,193.84 L203.87,194.16 L204.11,195.40 L204.35,196.62 L204.60,197.82 L204.84,199.00 L205.09,200.15 L205.33,201.28 L205.58,202.39 L205.82,203.48 L206.07,204.54 L206.31,205.58 L206.55,206.60 L206.80,207.60 L207.04,208.58 L207.29,209.53 L207.53,210.46 L207.78,211.38 L208.02,212.27 L208.27,213.14 L208.51,213.99 L208.75,214.82 L209.00,215.64 L209.24,216.43 L209.49,217.20 L209.73,217.96 L209.98,218.70 L210.22,219.42 L210.46,220.12 L210.71,220.81 L210.95,221.48 L211.20,222.13 L211.44,222.77 L211.69,223.39 L211.93,224.00 L212.18,224.59 L212.42,225.17 L213.64,227.85 L214.86,230.21 L216.09,232.31 L217.31,234.16 L218.53,235.80 L219.75,237.26 L220.97,238.56 L222.20,239.71 L223.42,240.74 L224.64,241.67 L225.86,242.50 L227.08,243.25 L228.31,243.92 L229.53,244.53 L230.75,245.08 L231.97,245.59 L233.19,246.04 L234.42,246.46 L235.64,246.84 L236.86,247.19 L238.08,247.51 L239.30,247.80 L240.53,248.07 L241.75,248.32 L242.97,248.55 L244.19,248.76 L245.41,248.96 L246.64,249.14 L247.86,249.31 L249.08,249.47 L250.30,249.62 L251.52,249.75 L252.75,249.88 L253.97,250.00 L255.19,250.11 L256.41,250.22 L257.63,250.32 L258.86,250.41 L260.08,250.50 L261.30,250.58 L263.74,250.73 L266.19,250.86 L268.63,250.98 L271.08,251.09 L273.52,251.19 L275.96,251.27 L278.41,251.35 L280.85,251.42 L283.30,251.49 L285.74,251.54 L288.18,251.60 L290.63,251.65 L293.07,251.69 L295.52,251.73 L297.96,251.77 L300.40,251.81 L302.85,251.84 L305.29,251.87 L307.74,251.89 L310.18,251.92 L312.62,251.94 L315.07,251.97 L317.51,251.99 L319.96,252.01 L322.40,252.02 L324.84,252.04 L327.29,252.06 L329.73,252.07 L332.18,252.08 L334.62,252.10 L337.06,252.11 L339.51,252.12 L341.95,252.13 L344.40,252.14 L346.84,252.15 L349.28,252.16 L351.73,252.17 L354.17,252.17 L356.62,252.18 L359.06,252.19 L361.50,252.20 L363.95,252.20 L366.39,252.21 L368.84,252.21 L371.28,252.22 L373.72,252.22 L376.17,252.23 L378.61,252.23 L381.06,252.24 L383.50,252.24 L385.94,252.25 L388.39,252.25 L390.83,252.25 L393.28,252.26 L395.72,252.26 L398.16,252.26 L400.61,252.27 L403.05,252.27 L405.50,252.27 L407.94,252.28 L410.38,252.28 L412.83,252.28 L415.27,252.28 L417.72,252.29 L420.16,252.29" stroke="#800000" stroke-width="2.2" stroke-dasharray="3.3 4.9"/>
<path d="M78.00,47.27 L80.44,47.27 L82.89,47.27 L85.33,47.27 L87.78,47.27 L90.22,47.28 L92.66,47.28 L95.11,47.28 L97.55,47.29 L100.00,47.30 L102.44,47.30 L104.88,47.31 L107.33,47.32 L109.77,47.33 L112.22,47.34 L114.66,47.36 L117.10,47.37 L119.55,47.39 L121.99,47.40 L124.44,47.42 L126.88,47.44 L129.32,47.47 L131.77,47.50 L134.21,47.53 L136.66,47.56 L139.10,47.60 L140.32,47.62 L141.54,47.64 L142.77,47.66 L143.99,47.69 L145.21,47.71 L146.43,47.74 L147.65,47.77 L148.88,47.81 L150.10,47.84 L151.32,47.88 L152.54,47.92 L153.76,47.96 L154.99,48.01 L156.21,48.06 L157.43,48.12 L158.65,48.18 L159.87,48.24 L161.10,48.31 L162.32,48.39 L163.54,48.48 L164.76,48.57 L165.98,48.68 L167.21,48.79 L168.43,48.92 L169.65,49.06 L170.87,49.23 L172.09,49.41 L173.32,49.62 L174.54,49.85 L175.76,50.12 L176.98,50.43 L178.20,50.80 L179.43,51.22 L180.65,51.72 L181.87,52.32 L183.09,53.04 L184.31,53.93 L185.54,55.01 L186.76,56.38 L187.98,58.11 L188.22,58.51 L188.47,58.93 L188.71,59.38 L188.96,59.85 L189.20,60.35 L189.45,60.88 L189.69,61.43 L189.94,62.02 L190.18,62.64 L190.42,63.30 L190.67,64.01 L190.91,64.75 L191.16,65.54 L191.40,66.38 L191.65,67.27 L191.89,68.22 L192.13,69.23 L192.38,70.31 L192.62,71.46 L192.87,72.68 L193.11,73.99 L193.36,75.39 L193.60,76.88 L193.85,78.48 L194.09,80.18 L194.33,82.00 L194.58,83.94 L194.82,86.01 L195.07,88.22 L195.31,90.58 L195.56,93.09 L195.80,95.76 L196.05,98.60 L196.29,101.61 L196.53,104.79 L196.60,105.61 L196.66,106.44 L196.72,107.28 L196.78,108.14 L196.84,109.01 L196.90,109.88 L196.96,110.77 L197.02,111.67 L197.08,112.58 L197.14,113.50 L197.21,114.42 L197.27,115.36 L197.33,116.32 L197.39,117.28 L197.45,118.25 L197.51,119.23 L197.57,120.22 L197.63,121.22 L197.69,122.22 L197.76,123.24 L197.82,124.27 L197.88,125.31 L197.94,126.35 L198.00,127.40 L198.06,128.46 L198.12,129.53 L198.18,130.60 L198.24,131.69 L198.31,132.78 L198.37,133.87 L198.43,134.97 L198.49,136.08 L198.55,137.19 L198.61,138.31 L198.67,139.43 L198.73,140.56 L198.79,141.69 L198.86,142.82 L198.92,143.96 L198.98,145.10 L199.04,146.24 L199.10,147.38 L199.16,148.53 L199.22,149.67 L199.28,150.82 L199.34,151.97 L199.41,153.11 L199.47,154.26 L199.53,155.40 L199.59,156.55 L199.65,157.69 L199.71,158.83 L199.77,159.96 L199.83,161.09 L199.89,162.22 L199.96,163.35 L200.02,164.47 L200.08,165.58 L200.14,166.69 L200.20,167.80 L200.26,168.89 L200.32,169.99 L200.38,171.07 L200.44,172.15 L200.51,173.22 L200.57,174.29 L200.63,175.34 L200.69,176.39 L200.75,177.43 L200.81,178.46 L200.87,179.48 L200.93,180.50 L200.99,181.50 L201.06,182.50 L201.12,183.48 L201.18,184.45 L201.24,185.42 L201.30,186.37 L201.36,187.32 L201.42,188.25 L201.48,189.17 L201.54,190.09 L201.61,190.99 L201.67,191.88 L201.73,192.76 L201.79,193.63 L201.85,194.49 L201.91,195.33 L201.97,196.17 L202.03,196.99 L202.09,197.81 L202.16,198.61 L202.22,199.40 L202.28,200.18 L202.34,200.95 L202.40,201.71 L202.46,202.46 L202.52,203.20 L202.58,203.92 L202.64,204.64 L202.71,205.34 L202.77,206.03 L202.83,206.72 L202.89,207.39 L202.95,208.05 L203.01,208.71 L203.07,209.35 L203.13,209.98 L203.19,210.60 L203.25,211.21 L203.32,211.82 L203.38,212.41 L203.44,212.99 L203.50,213.56 L203.56,214.13 L203.62,214.68 L203.68,215.23 L203.74,215.77 L203.80,216.29 L203.87,216.81 L204.11,218.81 L204.35,220.67 L204.60,222.41 L204.84,224.04 L205.09,225.56 L205.33,226.98 L205.58,228.30 L205.82,229.54 L206.07,230.70 L206.31,231.79 L206.55,232.80 L206.80,233.75 L207.04,234.65 L207.29,235.48 L207.53,236.27 L207.78,237.00 L208.02,237.69 L208.27,238.34 L208.51,238.96 L208.75,239.53 L209.00,240.08 L209.24,240.59 L209.49,241.07 L209.73,241.53 L209.98,241.96 L210.22,242.37 L210.46,242.76 L210.71,243.12 L210.95,243.47 L211.20,243.80 L211.44,244.11 L211.69,244.41 L211.93,244.69 L212.18,244.96 L212.42,245.22 L213.64,246.33 L214.86,247.21 L216.09,247.92 L217.31,248.50 L218.53,248.98 L219.75,249.38 L220.97,249.71 L222.20,250.00 L223.42,250.24 L224.64,250.45 L225.86,250.63 L227.08,250.79 L228.31,250.93 L229.53,251.05 L230.75,251.16 L231.97,251.25 L233.19,251.34 L234.42,251.42 L235.64,251.48 L236.86,251.55 L238.08,251.60 L239.30,251.65 L240.53,251.70 L241.75,251.74 L242.97,251.78 L244.19,251.81 L245.41,251.85 L246.64,251.87 L247.86,251.90 L249.08,251.93 L250.30,251.95 L251.52,251.97 L252.75,251.99 L253.97,252.01 L255.19,252.03 L256.41,252.04 L257.63,252.06 L258.86,252.07 L260.08,252.09 L261.30,252.10 L263.74,252.12 L266.19,252.14 L268.63,252.16 L271.08,252.17 L273.52,252.19 L275.96,252.20 L278.41,252.21 L280.85,252.22 L283.30,252.23 L285.74,252.24 L288.18,252.25 L290.63,252.25 L293.07,252.26 L295.52,252.27 L297.96,252.27 L300.40,252.28 L302.85,252.28 L305.29,252.28 L307.74,252.29 L310.18,252.29 L312.62,252.29 L315.07,252.30 L317.51,252.30 L319.96,252.30 L322.40,252.31 L324.84,252.31 L327.29,252.31 L329.73,252.31 L332.18,252.31 L334.62,252.32 L337.06,252.32 L339.51,252.32 L341.95,252.32 L344.40,252.32 L346.84,252.32 L349.28,252.32 L351.73,252.33 L354.17,252.33 L356.62,252.33 L359.06,252.33 L361.50,252.33 L363.95,252.33 L366.39,252.33 L368.84,252.33 L371.28,252.33 L373.72,252.33 L376.17,252.33 L378.61,252.33 L381.06,252.33 L383.50,252.34 L385.94,252.34 L388.39,252.34 L390.83,252.34 L393.28,252.34 L395.72,252.34 L398.16,252.34 L400.61,252.34 L403.05,252.34 L405.50,252.34 L407.94,252.34 L410.38,252.34 L412.83,252.34 L415.27,252.34 L417.72,252.34 L420.16,252.34" stroke="#808000" stroke-width="2.2" stroke-dasharray="6 4.1 0.4 4.1"/>
<g stroke="#000" stroke-width="2.2" stroke-linecap="butt">
<line x1="102.44" y1="246.04999999999998" x2="102.44" y2="258.65"/>
<line x1="126.88" y1="246.04999999999998" x2="126.88" y2="258.65"/>
<line x1="151.32" y1="246.04999999999998" x2="151.32" y2="258.65"/>
<line x1="175.76" y1="246.04999999999998" x2="175.76" y2="258.65"/>
<line x1="200.20" y1="241.15" x2="200.20" y2="263.55"/>
<line x1="224.64" y1="246.04999999999998" x2="224.64" y2="258.65"/>
<line x1="249.08" y1="246.04999999999998" x2="249.08" y2="258.65"/>
<line x1="273.52" y1="246.04999999999998" x2="273.52" y2="258.65"/>
<line x1="297.96" y1="246.04999999999998" x2="297.96" y2="258.65"/>
<line x1="322.40" y1="241.15" x2="322.40" y2="263.55"/>
<line x1="346.84" y1="246.04999999999998" x2="346.84" y2="258.65"/>
<line x1="371.28" y1="246.04999999999998" x2="371.28" y2="258.65"/>
<line x1="395.72" y1="246.04999999999998" x2="395.72" y2="258.65"/>
</g>
<path d="M78.00,472.25 L80.44,472.25 L82.89,472.24 L85.33,472.24 L87.78,472.24 L90.22,472.23 L92.66,472.22 L95.11,472.21 L97.55,472.20 L100.00,472.19 L102.44,472.17 L104.88,472.15 L107.33,472.14 L109.77,472.11 L112.22,472.09 L114.66,472.06 L117.10,472.03 L119.55,472.00 L121.99,471.96 L124.44,471.92 L126.88,471.88 L129.32,471.83 L131.77,471.77 L134.21,471.71 L136.66,471.64 L139.10,471.57 L140.32,471.53 L141.54,471.49 L142.77,471.44 L143.99,471.39 L145.21,471.34 L146.43,471.29 L147.65,471.23 L148.88,471.17 L150.10,471.11 L151.32,471.04 L152.54,470.97 L153.76,470.90 L154.99,470.82 L156.21,470.73 L157.43,470.64 L158.65,470.54 L159.87,470.44 L161.10,470.32 L162.32,470.20 L163.54,470.07 L164.76,469.94 L165.98,469.79 L167.21,469.62 L168.43,469.45 L169.65,469.26 L170.87,469.05 L172.09,468.82 L173.32,468.57 L174.54,468.29 L175.76,467.99 L176.98,467.65 L178.20,467.27 L179.43,466.85 L180.65,466.37 L181.87,465.83 L183.09,465.21 L184.31,464.48 L185.54,463.64 L186.76,462.64 L187.98,461.44 L188.22,461.17 L188.47,460.89 L188.71,460.60 L188.96,460.29 L189.20,459.97 L189.45,459.64 L189.69,459.29 L189.94,458.92 L190.18,458.54 L190.42,458.14 L190.67,457.71 L190.91,457.27 L191.16,456.80 L191.40,456.30 L191.65,455.78 L191.89,455.23 L192.13,454.64 L192.38,454.02 L192.62,453.35 L192.87,452.65 L193.11,451.89 L193.36,451.08 L193.60,450.22 L193.85,449.28 L194.09,448.28 L194.33,447.19 L194.58,446.02 L194.82,444.74 L195.07,443.34 L195.31,441.80 L195.56,440.12 L195.80,438.25 L196.05,436.18 L196.29,433.86 L196.53,431.25 L196.60,430.55 L196.66,429.83 L196.72,429.08 L196.78,428.30 L196.84,427.51 L196.90,426.68 L196.96,425.83 L197.02,424.94 L197.08,424.03 L197.14,423.08 L197.21,422.09 L197.27,421.07 L197.33,420.02 L197.39,418.92 L197.45,417.78 L197.51,416.59 L197.57,415.35 L197.63,414.07 L197.69,412.73 L197.76,411.33 L197.82,409.87 L197.88,408.35 L197.94,406.76 L198.00,405.10 L198.06,403.36 L198.12,401.53 L198.18,399.62 L198.24,397.62 L198.31,395.52 L198.37,393.30 L198.43,390.98 L198.49,388.54 L198.55,385.96 L198.61,383.25 L198.67,380.38 L198.73,377.37 L198.79,374.18 L198.86,370.81 L198.92,367.26 L198.98,363.51 L199.04,359.55 L199.10,355.37 L199.16,350.96 L199.22,346.32 L199.28,341.45 L199.34,336.35 L199.41,331.03 L199.47,325.51 L199.53,319.83 L199.59,314.01 L199.65,308.14 L199.71,302.30 L199.77,296.58 L199.83,291.13 L199.89,286.10 L199.96,281.65 L200.02,277.95 L200.08,275.17 L200.14,273.44 L200.20,272.85 L200.26,273.44 L200.32,275.19 L200.38,278.02 L200.44,281.80 L200.51,286.38 L200.57,291.58 L200.63,297.23 L200.69,303.17 L200.75,309.27 L200.81,315.40 L200.87,321.48 L200.93,327.43 L200.99,333.21 L201.06,338.78 L201.12,344.12 L201.18,349.21 L201.24,354.06 L201.30,358.67 L201.36,363.03 L201.42,367.16 L201.48,371.08 L201.54,374.78 L201.61,378.28 L201.67,381.59 L201.73,384.73 L201.79,387.70 L201.85,390.51 L201.91,393.18 L201.97,395.72 L202.03,398.12 L202.09,400.41 L202.16,402.58 L202.22,404.65 L202.28,406.62 L202.34,408.50 L202.40,410.29 L202.46,412.00 L202.52,413.64 L202.58,415.20 L202.64,416.70 L202.71,418.14 L202.77,419.51 L202.83,420.83 L202.89,422.10 L202.95,423.32 L203.01,424.49 L203.07,425.61 L203.13,426.70 L203.19,427.74 L203.25,428.75 L203.32,429.72 L203.38,430.65 L203.44,431.56 L203.50,432.43 L203.56,433.27 L203.62,434.09 L203.68,434.88 L203.74,435.64 L203.80,436.38 L203.87,437.10 L204.11,439.75 L204.35,442.11 L204.60,444.22 L204.84,446.11 L205.09,447.83 L205.33,449.38 L205.58,450.80 L205.82,452.10 L206.07,453.29 L206.31,454.39 L206.55,455.41 L206.80,456.35 L207.04,457.22 L207.29,458.04 L207.53,458.80 L207.78,459.52 L208.02,460.19 L208.27,460.81 L208.51,461.41 L208.75,461.97 L209.00,462.49 L209.24,462.99 L209.49,463.47 L209.73,463.92 L209.98,464.34 L210.22,464.75 L210.46,465.13 L210.71,465.50 L210.95,465.85 L211.20,466.19 L211.44,466.51 L211.69,466.82 L211.93,467.11 L212.18,467.40 L212.42,467.67 L213.64,468.88 L214.86,469.88 L216.09,470.73 L217.31,471.45 L218.53,472.08 L219.75,472.62 L220.97,473.10 L222.20,473.52 L223.42,473.90 L224.64,474.24 L225.86,474.55 L227.08,474.82 L228.31,475.07 L229.53,475.30 L230.75,475.51 L231.97,475.70 L233.19,475.87 L234.42,476.04 L235.64,476.19 L236.86,476.32 L238.08,476.45 L239.30,476.57 L240.53,476.68 L241.75,476.79 L242.97,476.88 L244.19,476.97 L245.41,477.06 L246.64,477.14 L247.86,477.21 L249.08,477.28 L250.30,477.35 L251.52,477.41 L252.75,477.47 L253.97,477.53 L255.19,477.58 L256.41,477.63 L257.63,477.67 L258.86,477.72 L260.08,477.76 L261.30,477.80 L263.74,477.87 L266.19,477.93 L268.63,477.99 L271.08,478.04 L273.52,478.09 L275.96,478.13 L278.41,478.17 L280.85,478.21 L283.30,478.24 L285.74,478.26 L288.18,478.29 L290.63,478.31 L293.07,478.33 L295.52,478.35 L297.96,478.36 L300.40,478.37 L302.85,478.39 L305.29,478.40 L307.74,478.41 L310.18,478.41 L312.62,478.42 L315.07,478.42 L317.51,478.43 L319.96,478.43 L322.40,478.44 L324.84,478.44 L327.29,478.44 L329.73,478.44 L332.18,478.44 L334.62,478.44 L337.06,478.44 L339.51,478.44 L341.95,478.44 L344.40,478.43 L346.84,478.43 L349.28,478.43 L351.73,478.43 L354.17,478.42 L356.62,478.42 L359.06,478.42 L361.50,478.41 L363.95,478.41 L366.39,478.41 L368.84,478.40 L371.28,478.40 L373.72,478.39 L376.17,478.39 L378.61,478.38 L381.06,478.38 L383.50,478.38 L385.94,478.37 L388.39,478.37 L390.83,478.36 L393.28,478.36 L395.72,478.35 L398.16,478.35 L400.61,478.35 L403.05,478.34 L405.50,478.34 L407.94,478.33 L410.38,478.33 L412.83,478.33 L415.27,478.32 L417.72,478.32 L420.16,478.31" stroke="#000000" stroke-width="2.2"/>
<path d="M78.00,458.50 L80.44,458.50 L82.89,458.49 L85.33,458.47 L87.78,458.44 L90.22,458.41 L92.66,458.36 L95.11,458.31 L97.55,458.25 L100.00,458.18 L102.44,458.10 L104.88,458.01 L107.33,457.91 L109.77,457.79 L112.22,457.67 L114.66,457.53 L117.10,457.38 L119.55,457.21 L121.99,457.03 L124.44,456.83 L126.88,456.61 L129.32,456.36 L131.77,456.10 L134.21,455.80 L136.66,455.48 L139.10,455.13 L140.32,454.94 L141.54,454.74 L142.77,454.53 L143.99,454.30 L145.21,454.07 L146.43,453.82 L147.65,453.57 L148.88,453.29 L150.10,453.00 L151.32,452.70 L152.54,452.37 L153.76,452.03 L154.99,451.67 L156.21,451.28 L157.43,450.87 L158.65,450.43 L159.87,449.97 L161.10,449.47 L162.32,448.94 L163.54,448.37 L164.76,447.76 L165.98,447.10 L167.21,446.39 L168.43,445.62 L169.65,444.79 L170.87,443.88 L172.09,442.90 L173.32,441.82 L174.54,440.64 L175.76,439.33 L176.98,437.89 L178.20,436.28 L179.43,434.48 L180.65,432.46 L181.87,430.18 L183.09,427.57 L184.31,424.57 L185.54,421.09 L186.76,417.00 L187.98,412.16 L188.22,411.08 L188.47,409.96 L188.71,408.80 L188.96,407.59 L189.20,406.33 L189.45,405.03 L189.69,403.66 L189.94,402.24 L190.18,400.76 L190.42,399.22 L190.67,397.61 L190.91,395.92 L191.16,394.16 L191.40,392.32 L191.65,390.39 L191.89,388.37 L192.13,386.25 L192.38,384.02 L192.62,381.69 L192.87,379.24 L193.11,376.66 L193.36,373.95 L193.60,371.10 L193.85,368.09 L194.09,364.93 L194.33,361.60 L194.58,358.10 L194.82,354.42 L195.07,350.54 L195.31,346.47 L195.56,342.19 L195.80,337.72 L196.05,333.05 L196.29,328.19 L196.53,323.16 L196.60,321.87 L196.66,320.58 L196.72,319.28 L196.78,317.98 L196.84,316.66 L196.90,315.34 L196.96,314.02 L197.02,312.69 L197.08,311.35 L197.14,310.02 L197.21,308.68 L197.27,307.34 L197.33,306.00 L197.39,304.66 L197.45,303.32 L197.51,301.99 L197.57,300.67 L197.63,299.35 L197.69,298.04 L197.76,296.74 L197.82,295.46 L197.88,294.18 L197.94,292.93 L198.00,291.69 L198.06,290.47 L198.12,289.27 L198.18,288.10 L198.24,286.95 L198.31,285.83 L198.37,284.75 L198.43,283.69 L198.49,282.67 L198.55,281.69 L198.61,280.75 L198.67,279.85 L198.73,279.00 L198.79,278.19 L198.86,277.43 L198.92,276.73 L198.98,276.07 L199.04,275.48 L199.10,274.94 L199.16,274.45 L199.22,274.03 L199.28,273.67 L199.34,273.38 L199.41,273.15 L199.47,272.98 L199.53,272.88 L199.59,272.85 L199.65,272.89 L199.71,272.99 L199.77,273.16 L199.83,273.40 L199.89,273.70 L199.96,274.08 L200.02,274.52 L200.08,275.02 L200.14,275.59 L200.20,276.22 L200.26,276.91 L200.32,277.66 L200.38,278.47 L200.44,279.33 L200.51,280.25 L200.57,281.22 L200.63,282.24 L200.69,283.31 L200.75,284.42 L200.81,285.58 L200.87,286.77 L200.93,288.00 L200.99,289.27 L201.06,290.57 L201.12,291.90 L201.18,293.26 L201.24,294.65 L201.30,296.06 L201.36,297.49 L201.42,298.94 L201.48,300.40 L201.54,301.88 L201.61,303.38 L201.67,304.88 L201.73,306.39 L201.79,307.91 L201.85,309.44 L201.91,310.97 L201.97,312.50 L202.03,314.03 L202.09,315.56 L202.16,317.09 L202.22,318.62 L202.28,320.14 L202.34,321.66 L202.40,323.17 L202.46,324.67 L202.52,326.17 L202.58,327.65 L202.64,329.13 L202.71,330.60 L202.77,332.05 L202.83,333.49 L202.89,334.93 L202.95,336.35 L203.01,337.75 L203.07,339.15 L203.13,340.53 L203.19,341.89 L203.25,343.24 L203.32,344.58 L203.38,345.91 L203.44,347.21 L203.50,348.51 L203.56,349.79 L203.62,351.05 L203.68,352.30 L203.74,353.54 L203.80,354.76 L203.87,355.96 L204.11,360.63 L204.35,365.06 L204.60,369.27 L204.84,373.26 L205.09,377.04 L205.33,380.62 L205.58,384.01 L205.82,387.23 L206.07,390.28 L206.31,393.17 L206.55,395.91 L206.80,398.52 L207.04,400.99 L207.29,403.35 L207.53,405.59 L207.78,407.72 L208.02,409.76 L208.27,411.70 L208.51,413.55 L208.75,415.32 L209.00,417.01 L209.24,418.62 L209.49,420.17 L209.73,421.66 L209.98,423.08 L210.22,424.45 L210.46,425.76 L210.71,427.01 L210.95,428.23 L211.20,429.39 L211.44,430.51 L211.69,431.59 L211.93,432.63 L212.18,433.63 L212.42,434.60 L213.64,438.97 L214.86,442.67 L216.09,445.85 L217.31,448.60 L218.53,451.01 L219.75,453.13 L220.97,455.01 L222.20,456.69 L223.42,458.19 L224.64,459.55 L225.86,460.78 L227.08,461.90 L228.31,462.92 L229.53,463.85 L230.75,464.71 L231.97,465.50 L233.19,466.23 L234.42,466.91 L235.64,467.54 L236.86,468.13 L238.08,468.67 L239.30,469.18 L240.53,469.66 L241.75,470.11 L242.97,470.53 L244.19,470.93 L245.41,471.30 L246.64,471.65 L247.86,471.98 L249.08,472.29 L250.30,472.59 L251.52,472.87 L252.75,473.14 L253.97,473.39 L255.19,473.63 L256.41,473.85 L257.63,474.07 L258.86,474.28 L260.08,474.47 L261.30,474.66 L263.74,475.01 L266.19,475.32 L268.63,475.61 L271.08,475.87 L273.52,476.12 L275.96,476.34 L278.41,476.54 L280.85,476.73 L283.30,476.90 L285.74,477.06 L288.18,477.20 L290.63,477.34 L293.07,477.46 L295.52,477.58 L297.96,477.68 L300.40,477.78 L302.85,477.87 L305.29,477.95 L307.74,478.03 L310.18,478.10 L312.62,478.16 L315.07,478.22 L317.51,478.27 L319.96,478.32 L322.40,478.37 L324.84,478.41 L327.29,478.45 L329.73,478.49 L332.18,478.52 L334.62,478.55 L337.06,478.57 L339.51,478.60 L341.95,478.62 L344.40,478.64 L346.84,478.65 L349.28,478.67 L351.73,478.68 L354.17,478.69 L356.62,478.70 L359.06,478.71 L361.50,478.72 L363.95,478.72 L366.39,478.73 L368.84,478.73 L371.28,478.73 L373.72,478.74 L376.17,478.74 L378.61,478.74 L381.06,478.73 L383.50,478.73 L385.94,478.73 L388.39,478.73 L390.83,478.72 L393.28,478.72 L395.72,478.72 L398.16,478.71 L400.61,478.70 L403.05,478.70 L405.50,478.69 L407.94,478.69 L410.38,478.68 L412.83,478.67 L415.27,478.67 L417.72,478.66 L420.16,478.65" stroke="#ff0000" stroke-width="2.2" stroke-dasharray="7.8 10.2"/>
<path d="M78.00,418.83 L80.44,418.81 L82.89,418.76 L85.33,418.67 L87.78,418.55 L90.22,418.39 L92.66,418.20 L95.11,417.97 L97.55,417.70 L100.00,417.39 L102.44,417.04 L104.88,416.64 L107.33,416.20 L109.77,415.72 L112.22,415.18 L114.66,414.59 L117.10,413.95 L119.55,413.24 L121.99,412.47 L124.44,411.63 L126.88,410.72 L129.32,409.73 L131.77,408.65 L134.21,407.47 L136.66,406.19 L139.10,404.80 L140.32,404.05 L141.54,403.28 L142.77,402.46 L143.99,401.61 L145.21,400.73 L146.43,399.80 L147.65,398.82 L148.88,397.81 L150.10,396.74 L151.32,395.62 L152.54,394.45 L153.76,393.22 L154.99,391.92 L156.21,390.57 L157.43,389.14 L158.65,387.63 L159.87,386.05 L161.10,384.38 L162.32,382.62 L163.54,380.77 L164.76,378.81 L165.98,376.74 L167.21,374.54 L168.43,372.22 L169.65,369.76 L170.87,367.16 L172.09,364.39 L173.32,361.46 L174.54,358.34 L175.76,355.03 L176.98,351.52 L178.20,347.79 L179.43,343.83 L180.65,339.63 L181.87,335.19 L183.09,330.51 L184.31,325.58 L185.54,320.43 L186.76,315.08 L187.98,309.56 L188.22,308.45 L188.47,307.33 L188.71,306.20 L188.96,305.08 L189.20,303.95 L189.45,302.83 L189.69,301.70 L189.94,300.58 L190.18,299.46 L190.42,298.34 L190.67,297.22 L190.91,296.12 L191.16,295.01 L191.40,293.92 L191.65,292.84 L191.89,291.76 L192.13,290.70 L192.38,289.66 L192.62,288.63 L192.87,287.61 L193.11,286.61 L193.36,285.64 L193.60,284.68 L193.85,283.75 L194.09,282.85 L194.33,281.97 L194.58,281.12 L194.82,280.30 L195.07,279.51 L195.31,278.76 L195.56,278.05 L195.80,277.37 L196.05,276.73 L196.29,276.14 L196.53,275.59 L196.60,275.46 L196.66,275.33 L196.72,275.21 L196.78,275.08 L196.84,274.97 L196.90,274.85 L196.96,274.74 L197.02,274.63 L197.08,274.52 L197.14,274.42 L197.21,274.32 L197.27,274.22 L197.33,274.12 L197.39,274.03 L197.45,273.95 L197.51,273.86 L197.57,273.78 L197.63,273.70 L197.69,273.63 L197.76,273.56 L197.82,273.49 L197.88,273.42 L197.94,273.36 L198.00,273.30 L198.06,273.25 L198.12,273.20 L198.18,273.15 L198.24,273.11 L198.31,273.06 L198.37,273.03 L198.43,272.99 L198.49,272.96 L198.55,272.94 L198.61,272.91 L198.67,272.89 L198.73,272.88 L198.79,272.87 L198.86,272.86 L198.92,272.85 L198.98,272.85 L199.04,272.85 L199.10,272.86 L199.16,272.87 L199.22,272.88 L199.28,272.90 L199.34,272.92 L199.41,272.94 L199.47,272.97 L199.53,273.00 L199.59,273.04 L199.65,273.08 L199.71,273.12 L199.77,273.17 L199.83,273.22 L199.89,273.27 L199.96,273.33 L200.02,273.39 L200.08,273.46 L200.14,273.53 L200.20,273.60 L200.26,273.68 L200.32,273.76 L200.38,273.84 L200.44,273.93 L200.51,274.02 L200.57,274.11 L200.63,274.21 L200.69,274.32 L200.75,274.42 L200.81,274.53 L200.87,274.65 L200.93,274.77 L200.99,274.89 L201.06,275.01 L201.12,275.14 L201.18,275.27 L201.24,275.41 L201.30,275.55 L201.36,275.69 L201.42,275.84 L201.48,275.99 L201.54,276.14 L201.61,276.30 L201.67,276.46 L201.73,276.63 L201.79,276.80 L201.85,276.97 L201.91,277.14 L201.97,277.32 L202.03,277.50 L202.09,277.69 L202.16,277.88 L202.22,278.07 L202.28,278.27 L202.34,278.47 L202.40,278.67 L202.46,278.88 L202.52,279.08 L202.58,279.30 L202.64,279.51 L202.71,279.73 L202.77,279.95 L202.83,280.18 L202.89,280.41 L202.95,280.64 L203.01,280.87 L203.07,281.11 L203.13,281.35 L203.19,281.60 L203.25,281.84 L203.32,282.09 L203.38,282.35 L203.44,282.60 L203.50,282.86 L203.56,283.12 L203.62,283.39 L203.68,283.65 L203.74,283.92 L203.80,284.20 L203.87,284.47 L204.11,285.60 L204.35,286.77 L204.60,287.98 L204.84,289.22 L205.09,290.50 L205.33,291.81 L205.58,293.15 L205.82,294.53 L206.07,295.92 L206.31,297.34 L206.55,298.79 L206.80,300.25 L207.04,301.73 L207.29,303.23 L207.53,304.75 L207.78,306.27 L208.02,307.81 L208.27,309.35 L208.51,310.91 L208.75,312.46 L209.00,314.03 L209.24,315.59 L209.49,317.16 L209.73,318.73 L209.98,320.29 L210.22,321.86 L210.46,323.42 L210.71,324.97 L210.95,326.52 L211.20,328.06 L211.44,329.60 L211.69,331.13 L211.93,332.65 L212.18,334.16 L212.42,335.66 L213.64,342.98 L214.86,349.98 L216.09,356.62 L217.31,362.89 L218.53,368.79 L219.75,374.32 L220.97,379.51 L222.20,384.36 L223.42,388.90 L224.64,393.14 L225.86,397.11 L227.08,400.83 L228.31,404.32 L229.53,407.58 L230.75,410.65 L231.97,413.53 L233.19,416.24 L234.42,418.79 L235.64,421.20 L236.86,423.47 L238.08,425.61 L239.30,427.64 L240.53,429.55 L241.75,431.37 L242.97,433.10 L244.19,434.73 L245.41,436.29 L246.64,437.77 L247.86,439.18 L249.08,440.52 L250.30,441.80 L251.52,443.02 L252.75,444.19 L253.97,445.30 L255.19,446.37 L256.41,447.39 L257.63,448.37 L258.86,449.31 L260.08,450.21 L261.30,451.08 L263.74,452.71 L266.19,454.21 L268.63,455.61 L271.08,456.91 L273.52,458.11 L275.96,459.24 L278.41,460.29 L280.85,461.27 L283.30,462.19 L285.74,463.05 L288.18,463.86 L290.63,464.62 L293.07,465.34 L295.52,466.01 L297.96,466.65 L300.40,467.25 L302.85,467.82 L305.29,468.35 L307.74,468.86 L310.18,469.35 L312.62,469.80 L315.07,470.24 L317.51,470.65 L319.96,471.04 L322.40,471.41 L324.84,471.76 L327.29,472.10 L329.73,472.42 L332.18,472.73 L334.62,473.02 L337.06,473.29 L339.51,473.56 L341.95,473.81 L344.40,474.05 L346.84,474.28 L349.28,474.50 L351.73,474.71 L354.17,474.91 L356.62,475.10 L359.06,475.28 L361.50,475.45 L363.95,475.62 L366.39,475.78 L368.84,475.93 L371.28,476.08 L373.72,476.22 L376.17,476.35 L378.61,476.48 L381.06,476.60 L383.50,476.71 L385.94,476.82 L388.39,476.93 L390.83,477.03 L393.28,477.13 L395.72,477.22 L398.16,477.31 L400.61,477.39 L403.05,477.48 L405.50,477.55 L407.94,477.63 L410.38,477.70 L412.83,477.76 L415.27,477.83 L417.72,477.89 L420.16,477.95" stroke="#0000ff" stroke-width="2.2" stroke-dasharray="6.8 6.0 1.3 5.9 1.3 6.0"/>
<path d="M78.00,391.36 L80.44,391.33 L82.89,391.24 L85.33,391.09 L87.78,390.88 L90.22,390.60 L92.66,390.27 L95.11,389.86 L97.55,389.40 L100.00,388.86 L102.44,388.25 L104.88,387.57 L107.33,386.82 L109.77,385.98 L112.22,385.06 L114.66,384.06 L117.10,382.96 L119.55,381.77 L121.99,380.47 L124.44,379.06 L126.88,377.54 L129.32,375.89 L131.77,374.11 L134.21,372.19 L136.66,370.12 L139.10,367.88 L140.32,366.70 L141.54,365.47 L142.77,364.19 L143.99,362.86 L145.21,361.48 L146.43,360.05 L147.65,358.56 L148.88,357.02 L150.10,355.42 L151.32,353.75 L152.54,352.03 L153.76,350.23 L154.99,348.37 L156.21,346.44 L157.43,344.44 L158.65,342.36 L159.87,340.21 L161.10,337.98 L162.32,335.68 L163.54,333.29 L164.76,330.83 L165.98,328.28 L167.21,325.66 L168.43,322.96 L169.65,320.19 L170.87,317.34 L172.09,314.44 L173.32,311.47 L174.54,308.46 L175.76,305.42 L176.98,302.35 L178.20,299.28 L179.43,296.23 L180.65,293.22 L181.87,290.28 L183.09,287.44 L184.31,284.74 L185.54,282.21 L186.76,279.89 L187.98,277.84 L188.22,277.46 L188.47,277.10 L188.71,276.75 L188.96,276.41 L189.20,276.08 L189.45,275.77 L189.69,275.47 L189.94,275.19 L190.18,274.92 L190.42,274.67 L190.67,274.43 L190.91,274.21 L191.16,274.00 L191.40,273.81 L191.65,273.64 L191.89,273.48 L192.13,273.34 L192.38,273.22 L192.62,273.11 L192.87,273.02 L193.11,272.95 L193.36,272.90 L193.60,272.87 L193.85,272.85 L194.09,272.85 L194.33,272.88 L194.58,272.92 L194.82,272.98 L195.07,273.05 L195.31,273.15 L195.56,273.27 L195.80,273.40 L196.05,273.56 L196.29,273.73 L196.53,273.93 L196.60,273.98 L196.66,274.03 L196.72,274.08 L196.78,274.14 L196.84,274.20 L196.90,274.25 L196.96,274.31 L197.02,274.37 L197.08,274.43 L197.14,274.49 L197.21,274.56 L197.27,274.62 L197.33,274.69 L197.39,274.76 L197.45,274.82 L197.51,274.89 L197.57,274.96 L197.63,275.04 L197.69,275.11 L197.76,275.18 L197.82,275.26 L197.88,275.33 L197.94,275.41 L198.00,275.49 L198.06,275.57 L198.12,275.65 L198.18,275.73 L198.24,275.82 L198.31,275.90 L198.37,275.99 L198.43,276.07 L198.49,276.16 L198.55,276.25 L198.61,276.34 L198.67,276.43 L198.73,276.53 L198.79,276.62 L198.86,276.71 L198.92,276.81 L198.98,276.91 L199.04,277.01 L199.10,277.11 L199.16,277.21 L199.22,277.31 L199.28,277.41 L199.34,277.52 L199.41,277.62 L199.47,277.73 L199.53,277.83 L199.59,277.94 L199.65,278.05 L199.71,278.16 L199.77,278.27 L199.83,278.39 L199.89,278.50 L199.96,278.62 L200.02,278.73 L200.08,278.85 L200.14,278.97 L200.20,279.09 L200.26,279.21 L200.32,279.33 L200.38,279.45 L200.44,279.57 L200.51,279.70 L200.57,279.82 L200.63,279.95 L200.69,280.08 L200.75,280.21 L200.81,280.34 L200.87,280.47 L200.93,280.60 L200.99,280.73 L201.06,280.87 L201.12,281.00 L201.18,281.14 L201.24,281.27 L201.30,281.41 L201.36,281.55 L201.42,281.69 L201.48,281.83 L201.54,281.97 L201.61,282.11 L201.67,282.26 L201.73,282.40 L201.79,282.55 L201.85,282.69 L201.91,282.84 L201.97,282.99 L202.03,283.14 L202.09,283.29 L202.16,283.44 L202.22,283.59 L202.28,283.75 L202.34,283.90 L202.40,284.05 L202.46,284.21 L202.52,284.37 L202.58,284.52 L202.64,284.68 L202.71,284.84 L202.77,285.00 L202.83,285.16 L202.89,285.32 L202.95,285.48 L203.01,285.65 L203.07,285.81 L203.13,285.98 L203.19,286.14 L203.25,286.31 L203.32,286.48 L203.38,286.65 L203.44,286.81 L203.50,286.98 L203.56,287.15 L203.62,287.33 L203.68,287.50 L203.74,287.67 L203.80,287.85 L203.87,288.02 L204.11,288.72 L204.35,289.44 L204.60,290.17 L204.84,290.91 L205.09,291.66 L205.33,292.42 L205.58,293.19 L205.82,293.97 L206.07,294.76 L206.31,295.55 L206.55,296.36 L206.80,297.17 L207.04,297.99 L207.29,298.82 L207.53,299.65 L207.78,300.49 L208.02,301.34 L208.27,302.19 L208.51,303.04 L208.75,303.90 L209.00,304.77 L209.24,305.64 L209.49,306.52 L209.73,307.39 L209.98,308.27 L210.22,309.16 L210.46,310.04 L210.71,310.93 L210.95,311.82 L211.20,312.71 L211.44,313.61 L211.69,314.50 L211.93,315.40 L212.18,316.29 L212.42,317.19 L213.64,321.67 L214.86,326.12 L216.09,330.52 L217.31,334.85 L218.53,339.10 L219.75,343.24 L220.97,347.29 L222.20,351.21 L223.42,355.02 L224.64,358.70 L225.86,362.27 L227.08,365.70 L228.31,369.02 L229.53,372.22 L230.75,375.30 L231.97,378.26 L233.19,381.11 L234.42,383.86 L235.64,386.50 L236.86,389.04 L238.08,391.49 L239.30,393.84 L240.53,396.10 L241.75,398.28 L242.97,400.37 L244.19,402.39 L245.41,404.34 L246.64,406.21 L247.86,408.01 L249.08,409.75 L250.30,411.43 L251.52,413.05 L252.75,414.61 L253.97,416.12 L255.19,417.57 L256.41,418.98 L257.63,420.33 L258.86,421.65 L260.08,422.92 L261.30,424.14 L263.74,426.48 L266.19,428.67 L268.63,430.73 L271.08,432.67 L273.52,434.49 L275.96,436.21 L278.41,437.83 L280.85,439.36 L283.30,440.81 L285.74,442.18 L288.18,443.48 L290.63,444.72 L293.07,445.89 L295.52,447.00 L297.96,448.06 L300.40,449.08 L302.85,450.04 L305.29,450.96 L307.74,451.84 L310.18,452.68 L312.62,453.48 L315.07,454.25 L317.51,454.99 L319.96,455.69 L322.40,456.37 L324.84,457.02 L327.29,457.64 L329.73,458.24 L332.18,458.82 L334.62,459.37 L337.06,459.90 L339.51,460.42 L341.95,460.91 L344.40,461.39 L346.84,461.85 L349.28,462.29 L351.73,462.72 L354.17,463.14 L356.62,463.54 L359.06,463.92 L361.50,464.30 L363.95,464.66 L366.39,465.01 L368.84,465.35 L371.28,465.67 L373.72,465.99 L376.17,466.30 L378.61,466.60 L381.06,466.89 L383.50,467.17 L385.94,467.44 L388.39,467.70 L390.83,467.96 L393.28,468.21 L395.72,468.45 L398.16,468.68 L400.61,468.91 L403.05,469.13 L405.50,469.35 L407.94,469.56 L410.38,469.76 L412.83,469.96 L415.27,470.15 L417.72,470.34 L420.16,470.52" stroke="#008000" stroke-width="2.2" stroke-dasharray="9.3 6 1.3 6"/>
<path d="M78.00,396.76 L80.44,396.73 L82.89,396.64 L85.33,396.48 L87.78,396.26 L90.22,395.98 L92.66,395.63 L95.11,395.22 L97.55,394.73 L100.00,394.18 L102.44,393.55 L104.88,392.85 L107.33,392.07 L109.77,391.20 L112.22,390.25 L114.66,389.20 L117.10,388.06 L119.55,386.82 L121.99,385.46 L124.44,383.99 L126.88,382.40 L129.32,380.67 L131.77,378.80 L134.21,376.77 L136.66,374.58 L139.10,372.21 L140.32,370.95 L141.54,369.64 L142.77,368.28 L143.99,366.87 L145.21,365.39 L146.43,363.86 L147.65,362.27 L148.88,360.62 L150.10,358.89 L151.32,357.10 L152.54,355.24 L153.76,353.30 L154.99,351.29 L156.21,349.19 L157.43,347.02 L158.65,344.76 L159.87,342.42 L161.10,339.98 L162.32,337.46 L163.54,334.85 L164.76,332.15 L165.98,329.35 L167.21,326.47 L168.43,323.50 L169.65,320.45 L170.87,317.33 L172.09,314.13 L173.32,310.88 L174.54,307.58 L175.76,304.25 L176.98,300.92 L178.20,297.60 L179.43,294.32 L180.65,291.13 L181.87,288.04 L183.09,285.11 L184.31,282.38 L185.54,279.90 L186.76,277.72 L187.98,275.89 L188.22,275.57 L188.47,275.26 L188.71,274.97 L188.96,274.70 L189.20,274.45 L189.45,274.21 L189.69,273.99 L189.94,273.79 L190.18,273.61 L190.42,273.45 L190.67,273.31 L190.91,273.18 L191.16,273.08 L191.40,272.99 L191.65,272.93 L191.89,272.88 L192.13,272.86 L192.38,272.85 L192.62,272.87 L192.87,272.90 L193.11,272.96 L193.36,273.04 L193.60,273.14 L193.85,273.26 L194.09,273.41 L194.33,273.57 L194.58,273.75 L194.82,273.96 L195.07,274.19 L195.31,274.43 L195.56,274.70 L195.80,274.99 L196.05,275.30 L196.29,275.63 L196.53,275.98 L196.60,276.07 L196.66,276.17 L196.72,276.26 L196.78,276.35 L196.84,276.45 L196.90,276.55 L196.96,276.64 L197.02,276.74 L197.08,276.85 L197.14,276.95 L197.21,277.05 L197.27,277.16 L197.33,277.26 L197.39,277.37 L197.45,277.48 L197.51,277.58 L197.57,277.70 L197.63,277.81 L197.69,277.92 L197.76,278.03 L197.82,278.15 L197.88,278.27 L197.94,278.38 L198.00,278.50 L198.06,278.62 L198.12,278.74 L198.18,278.87 L198.24,278.99 L198.31,279.11 L198.37,279.24 L198.43,279.37 L198.49,279.49 L198.55,279.62 L198.61,279.75 L198.67,279.88 L198.73,280.02 L198.79,280.15 L198.86,280.28 L198.92,280.42 L198.98,280.56 L199.04,280.70 L199.10,280.83 L199.16,280.97 L199.22,281.12 L199.28,281.26 L199.34,281.40 L199.41,281.54 L199.47,281.69 L199.53,281.84 L199.59,281.98 L199.65,282.13 L199.71,282.28 L199.77,282.43 L199.83,282.58 L199.89,282.74 L199.96,282.89 L200.02,283.04 L200.08,283.20 L200.14,283.36 L200.20,283.51 L200.26,283.67 L200.32,283.83 L200.38,283.99 L200.44,284.15 L200.51,284.31 L200.57,284.48 L200.63,284.64 L200.69,284.81 L200.75,284.97 L200.81,285.14 L200.87,285.31 L200.93,285.47 L200.99,285.64 L201.06,285.81 L201.12,285.99 L201.18,286.16 L201.24,286.33 L201.30,286.50 L201.36,286.68 L201.42,286.85 L201.48,287.03 L201.54,287.21 L201.61,287.38 L201.67,287.56 L201.73,287.74 L201.79,287.92 L201.85,288.10 L201.91,288.29 L201.97,288.47 L202.03,288.65 L202.09,288.84 L202.16,289.02 L202.22,289.21 L202.28,289.39 L202.34,289.58 L202.40,289.77 L202.46,289.96 L202.52,290.15 L202.58,290.34 L202.64,290.53 L202.71,290.72 L202.77,290.91 L202.83,291.10 L202.89,291.30 L202.95,291.49 L203.01,291.69 L203.07,291.88 L203.13,292.08 L203.19,292.28 L203.25,292.47 L203.32,292.67 L203.38,292.87 L203.44,293.07 L203.50,293.27 L203.56,293.47 L203.62,293.67 L203.68,293.87 L203.74,294.07 L203.80,294.28 L203.87,294.48 L204.11,295.30 L204.35,296.13 L204.60,296.96 L204.84,297.81 L205.09,298.66 L205.33,299.52 L205.58,300.38 L205.82,301.25 L206.07,302.12 L206.31,303.00 L206.55,303.89 L206.80,304.78 L207.04,305.67 L207.29,306.57 L207.53,307.47 L207.78,308.38 L208.02,309.28 L208.27,310.19 L208.51,311.10 L208.75,312.01 L209.00,312.93 L209.24,313.84 L209.49,314.76 L209.73,315.67 L209.98,316.59 L210.22,317.50 L210.46,318.42 L210.71,319.33 L210.95,320.25 L211.20,321.16 L211.44,322.07 L211.69,322.98 L211.93,323.89 L212.18,324.79 L212.42,325.70 L213.64,330.18 L214.86,334.58 L216.09,338.88 L217.31,343.08 L218.53,347.16 L219.75,351.12 L220.97,354.94 L222.20,358.64 L223.42,362.21 L224.64,365.64 L225.86,368.95 L227.08,372.13 L228.31,375.19 L229.53,378.14 L230.75,380.96 L231.97,383.68 L233.19,386.29 L234.42,388.79 L235.64,391.20 L236.86,393.51 L238.08,395.74 L239.30,397.88 L240.53,399.93 L241.75,401.91 L242.97,403.81 L244.19,405.65 L245.41,407.41 L246.64,409.11 L247.86,410.74 L249.08,412.32 L250.30,413.84 L251.52,415.31 L252.75,416.73 L253.97,418.09 L255.19,419.41 L256.41,420.69 L257.63,421.92 L258.86,423.11 L260.08,424.27 L261.30,425.38 L263.74,427.51 L266.19,429.50 L268.63,431.38 L271.08,433.14 L273.52,434.80 L275.96,436.37 L278.41,437.85 L280.85,439.25 L283.30,440.58 L285.74,441.83 L288.18,443.02 L290.63,444.16 L293.07,445.23 L295.52,446.26 L297.96,447.23 L300.40,448.16 L302.85,449.05 L305.29,449.90 L307.74,450.71 L310.18,451.49 L312.62,452.23 L315.07,452.94 L317.51,453.62 L319.96,454.28 L322.40,454.91 L324.84,455.51 L327.29,456.09 L329.73,456.65 L332.18,457.18 L334.62,457.70 L337.06,458.20 L339.51,458.68 L341.95,459.14 L344.40,459.59 L346.84,460.02 L349.28,460.43 L351.73,460.84 L354.17,461.22 L356.62,461.60 L359.06,461.96 L361.50,462.32 L363.95,462.66 L366.39,462.99 L368.84,463.31 L371.28,463.62 L373.72,463.92 L376.17,464.21 L378.61,464.49 L381.06,464.77 L383.50,465.04 L385.94,465.30 L388.39,465.55 L390.83,465.79 L393.28,466.03 L395.72,466.26 L398.16,466.49 L400.61,466.71 L403.05,466.92 L405.50,467.13 L407.94,467.33 L410.38,467.53 L412.83,467.72 L415.27,467.91 L417.72,468.09 L420.16,468.27" stroke="#ff00ff" stroke-width="2.2" stroke-dasharray="0.01 3.76"/>
<path d="M78.00,425.92 L80.44,425.90 L82.89,425.84 L85.33,425.73 L87.78,425.59 L90.22,425.40 L92.66,425.16 L95.11,424.89 L97.55,424.56 L100.00,424.19 L102.44,423.77 L104.88,423.29 L107.33,422.77 L109.77,422.18 L112.22,421.54 L114.66,420.83 L117.10,420.05 L119.55,419.20 L121.99,418.27 L124.44,417.26 L126.88,416.16 L129.32,414.95 L131.77,413.65 L134.21,412.22 L136.66,410.67 L139.10,408.98 L140.32,408.07 L141.54,407.13 L142.77,406.14 L143.99,405.10 L145.21,404.02 L146.43,402.89 L147.65,401.70 L148.88,400.46 L150.10,399.16 L151.32,397.79 L152.54,396.35 L153.76,394.85 L154.99,393.26 L156.21,391.60 L157.43,389.84 L158.65,388.00 L159.87,386.05 L161.10,384.00 L162.32,381.84 L163.54,379.55 L164.76,377.14 L165.98,374.59 L167.21,371.90 L168.43,369.04 L169.65,366.02 L170.87,362.83 L172.09,359.44 L173.32,355.86 L174.54,352.07 L175.76,348.06 L176.98,343.82 L178.20,339.36 L179.43,334.66 L180.65,329.74 L181.87,324.60 L183.09,319.28 L184.31,313.79 L185.54,308.21 L186.76,302.59 L187.98,297.04 L188.22,295.95 L188.47,294.87 L188.71,293.80 L188.96,292.74 L189.20,291.69 L189.45,290.65 L189.69,289.63 L189.94,288.62 L190.18,287.64 L190.42,286.67 L190.67,285.72 L190.91,284.79 L191.16,283.89 L191.40,283.01 L191.65,282.16 L191.89,281.34 L192.13,280.54 L192.38,279.78 L192.62,279.05 L192.87,278.35 L193.11,277.69 L193.36,277.06 L193.60,276.48 L193.85,275.93 L194.09,275.42 L194.33,274.96 L194.58,274.54 L194.82,274.16 L195.07,273.83 L195.31,273.55 L195.56,273.31 L195.80,273.12 L196.05,272.98 L196.29,272.89 L196.53,272.85 L196.60,272.85 L196.66,272.85 L196.72,272.86 L196.78,272.86 L196.84,272.87 L196.90,272.89 L196.96,272.90 L197.02,272.92 L197.08,272.95 L197.14,272.97 L197.21,273.00 L197.27,273.04 L197.33,273.07 L197.39,273.11 L197.45,273.16 L197.51,273.20 L197.57,273.25 L197.63,273.30 L197.69,273.36 L197.76,273.42 L197.82,273.48 L197.88,273.54 L197.94,273.61 L198.00,273.68 L198.06,273.76 L198.12,273.83 L198.18,273.92 L198.24,274.00 L198.31,274.09 L198.37,274.18 L198.43,274.27 L198.49,274.37 L198.55,274.47 L198.61,274.57 L198.67,274.67 L198.73,274.78 L198.79,274.89 L198.86,275.01 L198.92,275.13 L198.98,275.25 L199.04,275.37 L199.10,275.50 L199.16,275.63 L199.22,275.76 L199.28,275.90 L199.34,276.04 L199.41,276.18 L199.47,276.32 L199.53,276.47 L199.59,276.62 L199.65,276.77 L199.71,276.93 L199.77,277.09 L199.83,277.25 L199.89,277.42 L199.96,277.58 L200.02,277.76 L200.08,277.93 L200.14,278.10 L200.20,278.28 L200.26,278.46 L200.32,278.65 L200.38,278.83 L200.44,279.02 L200.51,279.22 L200.57,279.41 L200.63,279.61 L200.69,279.81 L200.75,280.01 L200.81,280.22 L200.87,280.42 L200.93,280.63 L200.99,280.84 L201.06,281.06 L201.12,281.28 L201.18,281.50 L201.24,281.72 L201.30,281.94 L201.36,282.17 L201.42,282.40 L201.48,282.63 L201.54,282.86 L201.61,283.10 L201.67,283.34 L201.73,283.58 L201.79,283.82 L201.85,284.06 L201.91,284.31 L201.97,284.56 L202.03,284.81 L202.09,285.06 L202.16,285.32 L202.22,285.57 L202.28,285.83 L202.34,286.09 L202.40,286.35 L202.46,286.62 L202.52,286.88 L202.58,287.15 L202.64,287.42 L202.71,287.69 L202.77,287.97 L202.83,288.24 L202.89,288.52 L202.95,288.80 L203.01,289.08 L203.07,289.36 L203.13,289.64 L203.19,289.93 L203.25,290.22 L203.32,290.50 L203.38,290.79 L203.44,291.09 L203.50,291.38 L203.56,291.67 L203.62,291.97 L203.68,292.26 L203.74,292.56 L203.80,292.86 L203.87,293.16 L204.11,294.38 L204.35,295.61 L204.60,296.87 L204.84,298.14 L205.09,299.42 L205.33,300.72 L205.58,302.02 L205.82,303.34 L206.07,304.67 L206.31,306.00 L206.55,307.35 L206.80,308.69 L207.04,310.04 L207.29,311.40 L207.53,312.75 L207.78,314.11 L208.02,315.47 L208.27,316.82 L208.51,318.18 L208.75,319.53 L209.00,320.87 L209.24,322.22 L209.49,323.56 L209.73,324.89 L209.98,326.22 L210.22,327.54 L210.46,328.85 L210.71,330.16 L210.95,331.46 L211.20,332.75 L211.44,334.03 L211.69,335.30 L211.93,336.56 L212.18,337.81 L212.42,339.05 L213.64,345.10 L214.86,350.87 L216.09,356.35 L217.31,361.54 L218.53,366.44 L219.75,371.07 L220.97,375.43 L222.20,379.53 L223.42,383.40 L224.64,387.04 L225.86,390.47 L227.08,393.70 L228.31,396.75 L229.53,399.63 L230.75,402.36 L231.97,404.93 L233.19,407.36 L234.42,409.67 L235.64,411.85 L236.86,413.93 L238.08,415.90 L239.30,417.77 L240.53,419.55 L241.75,421.25 L242.97,422.86 L244.19,424.41 L245.41,425.88 L246.64,427.28 L247.86,428.63 L249.08,429.92 L250.30,431.15 L251.52,432.33 L252.75,433.46 L253.97,434.55 L255.19,435.59 L256.41,436.60 L257.63,437.56 L258.86,438.49 L260.08,439.38 L261.30,440.24 L263.74,441.87 L266.19,443.39 L268.63,444.80 L271.08,446.13 L273.52,447.37 L275.96,448.53 L278.41,449.62 L280.85,450.65 L283.30,451.62 L285.74,452.53 L288.18,453.39 L290.63,454.21 L293.07,454.99 L295.52,455.72 L297.96,456.42 L300.40,457.08 L302.85,457.71 L305.29,458.31 L307.74,458.89 L310.18,459.44 L312.62,459.96 L315.07,460.46 L317.51,460.94 L319.96,461.40 L322.40,461.84 L324.84,462.26 L327.29,462.66 L329.73,463.05 L332.18,463.42 L334.62,463.78 L337.06,464.13 L339.51,464.46 L341.95,464.78 L344.40,465.09 L346.84,465.39 L349.28,465.67 L351.73,465.95 L354.17,466.22 L356.62,466.48 L359.06,466.73 L361.50,466.97 L363.95,467.20 L366.39,467.43 L368.84,467.65 L371.28,467.86 L373.72,468.07 L376.17,468.26 L378.61,468.46 L381.06,468.65 L383.50,468.83 L385.94,469.01 L388.39,469.18 L390.83,469.34 L393.28,469.51 L395.72,469.66 L398.16,469.82 L400.61,469.97 L403.05,470.11 L405.50,470.25 L407.94,470.39 L410.38,470.52 L412.83,470.65 L415.27,470.78 L417.72,470.91 L420.16,471.03" stroke="#800000" stroke-width="2.2" stroke-dasharray="3.3 4.9"/>
<path d="M78.00,459.70 L80.44,459.69 L82.89,459.67 L85.33,459.63 L87.78,459.58 L90.22,459.51 L92.66,459.43 L95.11,459.33 L97.55,459.21 L100.00,459.08 L102.44,458.93 L104.88,458.75 L107.33,458.56 L109.77,458.35 L112.22,458.12 L114.66,457.86 L117.10,457.58 L119.55,457.27 L121.99,456.93 L124.44,456.56 L126.88,456.15 L129.32,455.71 L131.77,455.23 L134.21,454.70 L136.66,454.12 L139.10,453.49 L140.32,453.15 L141.54,452.79 L142.77,452.42 L143.99,452.03 L145.21,451.62 L146.43,451.18 L147.65,450.73 L148.88,450.25 L150.10,449.75 L151.32,449.21 L152.54,448.65 L153.76,448.06 L154.99,447.43 L156.21,446.77 L157.43,446.06 L158.65,445.32 L159.87,444.52 L161.10,443.67 L162.32,442.77 L163.54,441.81 L164.76,440.77 L165.98,439.66 L167.21,438.47 L168.43,437.18 L169.65,435.80 L170.87,434.29 L172.09,432.66 L173.32,430.88 L174.54,428.93 L175.76,426.79 L176.98,424.44 L178.20,421.83 L179.43,418.94 L180.65,415.71 L181.87,412.08 L183.09,407.98 L184.31,403.32 L185.54,397.99 L186.76,391.85 L187.98,384.74 L188.22,383.18 L188.47,381.58 L188.71,379.92 L188.96,378.21 L189.20,376.45 L189.45,374.63 L189.69,372.75 L189.94,370.81 L190.18,368.80 L190.42,366.73 L190.67,364.60 L190.91,362.39 L191.16,360.11 L191.40,357.76 L191.65,355.34 L191.89,352.84 L192.13,350.26 L192.38,347.60 L192.62,344.86 L192.87,342.04 L193.11,339.15 L193.36,336.17 L193.60,333.12 L193.85,330.00 L194.09,326.81 L194.33,323.56 L194.58,320.25 L194.82,316.90 L195.07,313.51 L195.31,310.11 L195.56,306.69 L195.80,303.29 L196.05,299.93 L196.29,296.63 L196.53,293.41 L196.60,292.62 L196.66,291.84 L196.72,291.07 L196.78,290.31 L196.84,289.56 L196.90,288.81 L196.96,288.08 L197.02,287.36 L197.08,286.64 L197.14,285.94 L197.21,285.26 L197.27,284.58 L197.33,283.92 L197.39,283.28 L197.45,282.64 L197.51,282.03 L197.57,281.43 L197.63,280.84 L197.69,280.27 L197.76,279.72 L197.82,279.19 L197.88,278.67 L197.94,278.18 L198.00,277.70 L198.06,277.24 L198.12,276.81 L198.18,276.39 L198.24,275.99 L198.31,275.62 L198.37,275.27 L198.43,274.94 L198.49,274.64 L198.55,274.35 L198.61,274.09 L198.67,273.86 L198.73,273.65 L198.79,273.46 L198.86,273.30 L198.92,273.16 L198.98,273.05 L199.04,272.96 L199.10,272.90 L199.16,272.86 L199.22,272.85 L199.28,272.86 L199.34,272.90 L199.41,272.97 L199.47,273.06 L199.53,273.18 L199.59,273.32 L199.65,273.49 L199.71,273.68 L199.77,273.90 L199.83,274.14 L199.89,274.41 L199.96,274.70 L200.02,275.01 L200.08,275.35 L200.14,275.71 L200.20,276.10 L200.26,276.50 L200.32,276.93 L200.38,277.38 L200.44,277.86 L200.51,278.35 L200.57,278.87 L200.63,279.40 L200.69,279.95 L200.75,280.53 L200.81,281.12 L200.87,281.73 L200.93,282.35 L200.99,283.00 L201.06,283.66 L201.12,284.33 L201.18,285.03 L201.24,285.73 L201.30,286.45 L201.36,287.19 L201.42,287.93 L201.48,288.69 L201.54,289.46 L201.61,290.25 L201.67,291.04 L201.73,291.84 L201.79,292.66 L201.85,293.48 L201.91,294.31 L201.97,295.15 L202.03,296.00 L202.09,296.85 L202.16,297.72 L202.22,298.58 L202.28,299.46 L202.34,300.34 L202.40,301.22 L202.46,302.11 L202.52,303.00 L202.58,303.89 L202.64,304.79 L202.71,305.69 L202.77,306.60 L202.83,307.50 L202.89,308.41 L202.95,309.32 L203.01,310.23 L203.07,311.14 L203.13,312.05 L203.19,312.96 L203.25,313.86 L203.32,314.77 L203.38,315.68 L203.44,316.59 L203.50,317.49 L203.56,318.40 L203.62,319.30 L203.68,320.20 L203.74,321.09 L203.80,321.99 L203.87,322.88 L204.11,326.42 L204.35,329.89 L204.60,333.31 L204.84,336.65 L205.09,339.91 L205.33,343.09 L205.58,346.18 L205.82,349.19 L206.07,352.12 L206.31,354.96 L206.55,357.71 L206.80,360.38 L207.04,362.96 L207.29,365.46 L207.53,367.89 L207.78,370.23 L208.02,372.50 L208.27,374.70 L208.51,376.83 L208.75,378.88 L209.00,380.87 L209.24,382.80 L209.49,384.67 L209.73,386.48 L209.98,388.23 L210.22,389.92 L210.46,391.56 L210.71,393.15 L210.95,394.70 L211.20,396.19 L211.44,397.64 L211.69,399.05 L211.93,400.42 L212.18,401.74 L212.42,403.03 L213.64,408.93 L214.86,414.06 L216.09,418.56 L217.31,422.52 L218.53,426.04 L219.75,429.18 L220.97,431.99 L222.20,434.53 L223.42,436.82 L224.64,438.91 L225.86,440.82 L227.08,442.56 L228.31,444.17 L229.53,445.65 L230.75,447.02 L231.97,448.29 L233.19,449.47 L234.42,450.57 L235.64,451.59 L236.86,452.55 L238.08,453.46 L239.30,454.30 L240.53,455.10 L241.75,455.85 L242.97,456.56 L244.19,457.23 L245.41,457.87 L246.64,458.47 L247.86,459.04 L249.08,459.58 L250.30,460.10 L251.52,460.59 L252.75,461.06 L253.97,461.51 L255.19,461.94 L256.41,462.35 L257.63,462.74 L258.86,463.12 L260.08,463.48 L261.30,463.83 L263.74,464.48 L266.19,465.08 L268.63,465.64 L271.08,466.16 L273.52,466.65 L275.96,467.10 L278.41,467.52 L280.85,467.92 L283.30,468.30 L285.74,468.65 L288.18,468.98 L290.63,469.29 L293.07,469.58 L295.52,469.86 L297.96,470.13 L300.40,470.38 L302.85,470.62 L305.29,470.85 L307.74,471.06 L310.18,471.27 L312.62,471.46 L315.07,471.65 L317.51,471.83 L319.96,472.00 L322.40,472.16 L324.84,472.32 L327.29,472.47 L329.73,472.62 L332.18,472.76 L334.62,472.89 L337.06,473.02 L339.51,473.14 L341.95,473.26 L344.40,473.37 L346.84,473.48 L349.28,473.59 L351.73,473.69 L354.17,473.79 L356.62,473.88 L359.06,473.98 L361.50,474.07 L363.95,474.15 L366.39,474.24 L368.84,474.32 L371.28,474.39 L373.72,474.47 L376.17,474.54 L378.61,474.61 L381.06,474.68 L383.50,474.75 L385.94,474.81 L388.39,474.88 L390.83,474.94 L393.28,475.00 L395.72,475.06 L398.16,475.11 L400.61,475.17 L403.05,475.22 L405.50,475.27 L407.94,475.32 L410.38,475.37 L412.83,475.42 L415.27,475.46 L417.72,475.51 L420.16,475.55" stroke="#808000" stroke-width="2.2" stroke-dasharray="6 4.1 0.4 4.1"/>
</g>
<g fill="none" stroke-linecap="round">
<line x1="274.9" y1="78.7" x2="314.0" y2="78.7" stroke="#000000" stroke-width="2.2"/>
<line x1="274.9" y1="106.8" x2="314.5" y2="106.8" stroke="#ff0000" stroke-width="2.2" stroke-dasharray="7.8 10.2"/>
<line x1="274.9" y1="129.0" x2="309.2" y2="129.0" stroke="#0000ff" stroke-width="2.2" stroke-dasharray="6.8 6.0 1.3 5.9 1.3 6.0"/>
<line x1="274.9" y1="151.1" x2="314.0" y2="151.1" stroke="#008000" stroke-width="2.2" stroke-dasharray="9.3 6 1.3 6"/>
<line x1="274.9" y1="173.4" x2="313.0" y2="173.4" stroke="#ff00ff" stroke-width="2.2" stroke-dasharray="0.01 3.76"/>
<line x1="274.9" y1="195.4" x2="311.0" y2="195.4" stroke="#800000" stroke-width="2.2" stroke-dasharray="3.3 4.9"/>
<line x1="274.9" y1="217.4" x2="314.0" y2="217.4" stroke="#808000" stroke-width="2.2" stroke-dasharray="6 4.1 0.4 4.1"/>
</g>
<g font-family="Liberation Sans, sans-serif" font-weight="bold" fill="#000" stroke="#000" stroke-width="0.3" style="opacity:0.999;will-change:transform">
<text transform="translate(40.09,257.85) scale(1,1.05)" font-size="19.0">0.0</text>
<text transform="translate(40.09,216.75) scale(1,1.05)" font-size="19.0">0.2</text>
<text transform="translate(40.09,175.65) scale(1,1.05)" font-size="19.0">0.4</text>
<text transform="translate(40.09,134.55) scale(1,1.05)" font-size="19.0">0.6</text>
<text transform="translate(40.09,93.45) scale(1,1.05)" font-size="19.0">0.8</text>
<path d="M806 0H518V1085Q360 938 147 867V1129Q259 1165 391 1268Q523 1370 572 1466H806Z" transform="translate(40.09,52.35) scale(0.00928,-0.00974)" vector-effect="non-scaling-stroke"/>
<text transform="translate(50.65,52.35) scale(1,1.05)" font-size="19.0">.0</text>
<text transform="translate(40.09,483.70) scale(1,1.05)" font-size="19.0">0.0</text>
<text transform="translate(40.09,442.63) scale(1,1.05)" font-size="19.0">0.</text>
<path d="M806 0H518V1085Q360 938 147 867V1129Q259 1165 391 1268Q523 1370 572 1466H806Z" transform="translate(55.94,442.63) scale(0.00928,-0.00974)" vector-effect="non-scaling-stroke"/>
<text transform="translate(40.09,401.56) scale(1,1.05)" font-size="19.0">0.2</text>
<text transform="translate(40.09,360.49) scale(1,1.05)" font-size="19.0">0.3</text>
<text transform="translate(40.09,319.42) scale(1,1.05)" font-size="19.0">0.4</text>
<text transform="translate(40.09,278.35) scale(1,1.05)" font-size="19.0">0.5</text>
<text transform="translate(72.72,504.90) scale(1,1.05)" font-size="19.0">0</text>
<path d="M806 0H518V1085Q360 938 147 867V1129Q259 1165 391 1268Q523 1370 572 1466H806Z" transform="translate(194.92,504.90) scale(0.00928,-0.00974)" vector-effect="non-scaling-stroke"/>
<text transform="translate(317.12,504.90) scale(1,1.05)" font-size="19.0">2</text>
<text x="229.8" y="524" font-size="24.5">k/k</text>
<text x="264.2" y="532.6" font-size="14.6">Fn</text>
<text x="321.1" y="84.6" font-size="16.0">k</text>
<text x="330.3" y="90.9" font-size="12.7">Fn</text>
<text x="350.1" y="84.6" font-size="16.0">=</text>
<path d="M806 0H518V1085Q360 938 147 867V1129Q259 1165 391 1268Q523 1370 572 1466H806Z" transform="translate(364.70,84.60) scale(0.00781,-0.00781)" vector-effect="non-scaling-stroke"/>
<text transform="translate(373.60,84.60) scale(1,1.0)" font-size="16.0">.4</text>
<text x="392.3" y="84.6" font-size="16.0">fm</text>
<text transform="translate(411.60,77.00) scale(1,1.0)" font-size="12.7">-</text>
<path d="M806 0H518V1085Q360 938 147 867V1129Q259 1165 391 1268Q523 1370 572 1466H806Z" transform="translate(415.83,77.00) scale(0.00620,-0.00620)" vector-effect="non-scaling-stroke"/>
<path d="M806 0H518V1085Q360 938 147 867V1129Q259 1165 391 1268Q523 1370 572 1466H806Z" transform="translate(364.70,112.60) scale(0.00781,-0.00781)" vector-effect="non-scaling-stroke"/>
<text transform="translate(373.60,112.60) scale(1,1.0)" font-size="16.0">.2</text>
<text transform="translate(364.70,134.80) scale(1,1.0)" font-size="16.0">0.8</text>
<text transform="translate(364.70,156.90) scale(1,1.0)" font-size="16.0">0.4</text>
<text transform="translate(364.70,179.20) scale(1,1.0)" font-size="16.0">0.2</text>
<text transform="translate(364.70,201.20) scale(1,1.0)" font-size="16.0">0.</text>
<path d="M806 0H518V1085Q360 938 147 867V1129Q259 1165 391 1268Q523 1370 572 1466H806Z" transform="translate(378.04,201.20) scale(0.00781,-0.00781)" vector-effect="non-scaling-stroke"/>
<text transform="translate(364.70,223.20) scale(1,1.0)" font-size="16.0">0.05</text>
<text transform="translate(346.30,368.80) scale(1,1.0)" font-size="23.5">D</text>
<path d="M806 0H518V1085Q360 938 147 867V1129Q259 1165 391 1268Q523 1370 572 1466H806Z" transform="translate(363.27,368.80) scale(0.01147,-0.01147)" vector-effect="non-scaling-stroke"/>
<text x="345.6" y="403" font-family="Liberation Serif, serif" font-size="26.8" font-weight="normal" stroke-width="0.4">ζ</text>
<text x="364.4" y="402" font-size="24">=</text>
<path d="M806 0H518V1085Q360 938 147 867V1129Q259 1165 391 1268Q523 1370 572 1466H806Z" transform="translate(386.40,402.00) scale(0.01172,-0.01172)" vector-effect="non-scaling-stroke"/>
<text transform="translate(27,157.7) rotate(-90)" font-size="22.7" font-weight="normal" stroke-width="0.35">ρ</text>
<text transform="translate(35.4,144.4) rotate(-90)" font-size="14">k</text>
<text transform="translate(26.7,385.6) rotate(-90) scale(1.07,0.92)" font-family="Liberation Serif, serif" font-size="24.6" font-weight="normal" stroke-width="0.8">κ</text>
<text transform="translate(35.4,371.3) rotate(-90)" font-size="14">k</text>
</g>
</svg>
</body></html>
